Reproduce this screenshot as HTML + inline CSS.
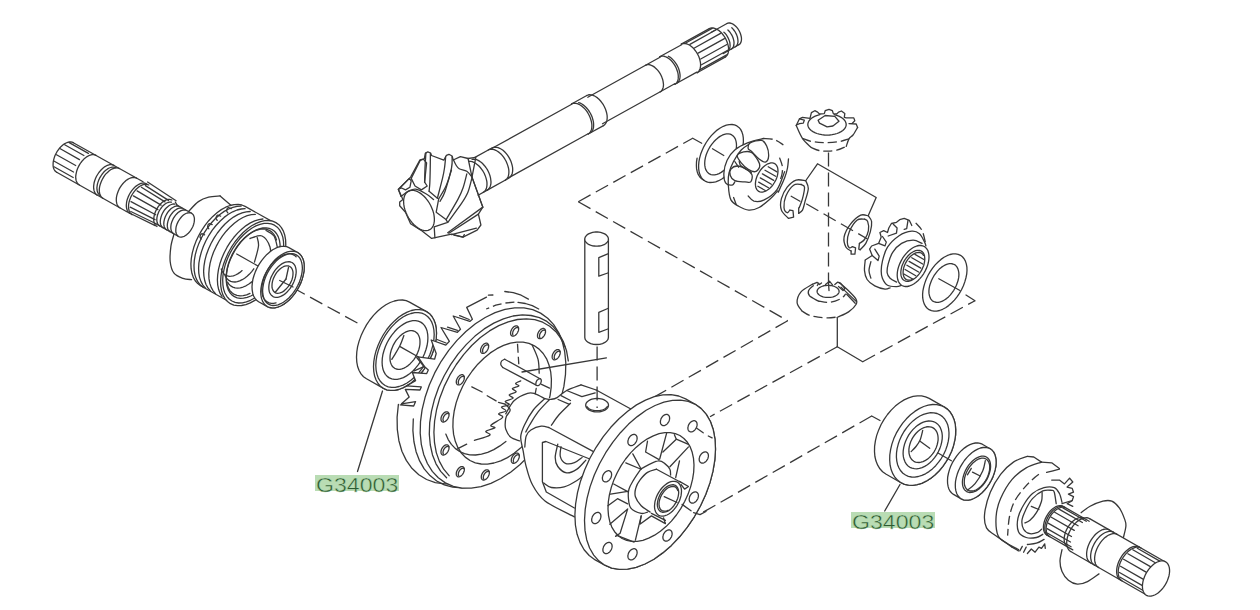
<!DOCTYPE html>
<html><head><meta charset="utf-8"><title>G34003</title>
<style>
html,body{margin:0;padding:0;background:#fff;}
body{width:1260px;height:610px;overflow:hidden;position:relative;font-family:"Liberation Sans",sans-serif;}
svg{position:absolute;left:0;top:0;}
svg path{fill:none;stroke:#383838;stroke-width:1.3;stroke-linecap:round;stroke-linejoin:round;}
svg path.w{fill:#fff;}
svg path.wn{fill:#fff;stroke:none;}
svg path.d{stroke-dasharray:14 6;stroke-linecap:butt;}
svg path.d2{stroke-dasharray:9 4;stroke-linecap:butt;}
svg path.t{stroke-width:0.9;}
.lb{position:absolute;background:#b9dcb4;color:#2c5a30;font-size:19.75px;line-height:16px;height:16px;white-space:nowrap;overflow:visible;}
.lb span{position:absolute;left:1px;top:1.5px;transform:scaleX(1.17);transform-origin:0 0;-webkit-text-stroke:0.45px #b9dcb4;}
</style></head><body>
<svg width="1260" height="610" viewBox="0 0 1260 610">
<!-- p_lines -->
<path d="M578.3 201.7 L692.7 138.3" class="d"/>
<path d="M692.7 138.3 L701.7 143.3"/>
<path d="M578.3 201.7 L787.7 320.7" class="d"/>
<path d="M787.7 320.7 L637.3 406.7" class="d"/>
<path d="M837.3 317.3 L837.3 346.7"/>
<path d="M837.3 346.7 L710 416.7" class="d"/>
<path d="M837.3 346.7 L862.7 361.7"/>
<path d="M862.7 361.7 L975 300.7" class="d"/>
<path d="M975 300.7 L966 295"/>
<path d="M871.7 416 L700 514" class="d"/>
<path d="M871.7 416 L880 420.5"/>
<path d="M693 430.7 L713 438"/>
<path d="M382.5 391 L357.5 471.5"/>
<path d="M900 484.5 L884.7 511"/>
<path d="M292.5 287.5 L361 325" class="d"/>
<!-- p_lshaft -->
<path d="M73.3 142.7 L143.1 181.8"/>
<path d="M56.7 172.3 L126.4 211.5"/>
<path d="M73.3 142.7 L72.1 142.2 L70.7 141.9 L69.2 142 L67.7 142.3 L66.1 143 L64.4 143.9 L62.8 145 L61.2 146.4 L59.7 148 L58.3 149.8 L57 151.7 L55.9 153.7 L54.9 155.8 L54.2 157.9 L53.6 160.1 L53.2 162.1 L53.1 164.1 L53.1 166 L53.4 167.7 L54 169.2 L54.7 170.5 L55.6 171.5 L56.7 172.3"/>
<path d="M69.2 142.6 L88.4 153.4"/>
<path d="M64.7 144.8 L83.9 155.5"/>
<path d="M60.3 148.8 L79.5 159.6"/>
<path d="M56.5 154.8 L75.7 165.5"/>
<path d="M54.3 161.2 L73.5 172"/>
<path d="M54 166.7 L73.2 177.5"/>
<path d="M96 155.4 L94.8 154.9 L93.4 154.7 L91.9 154.7 L90.3 155.1 L88.7 155.7 L87.1 156.6 L85.5 157.8 L83.9 159.1 L82.4 160.7 L81 162.5 L79.7 164.4 L78.6 166.4 L77.6 168.5 L76.8 170.7 L76.3 172.8 L75.9 174.9 L75.7 176.8 L75.8 178.7 L76.1 180.4 L76.6 181.9 L77.4 183.2 L78.3 184.3 L79.4 185"/>
<path d="M113.9 165.4 L112.6 164.9 L111.3 164.7 L109.8 164.7 L108.2 165.1 L106.6 165.7 L105 166.6 L103.4 167.8 L101.8 169.2 L100.3 170.8 L98.9 172.5 L97.6 174.5 L96.4 176.5 L95.5 178.6 L94.7 180.7 L94.1 182.8 L93.8 184.9 L93.6 186.9 L93.7 188.7 L94 190.4 L94.5 191.9 L95.2 193.2 L96.1 194.3 L97.2 195.1"/>
<path d="M116 167.8 L114.8 167.3 L113.5 167.1 L112.1 167.1 L110.7 167.5 L109.2 168 L107.6 168.9 L106.1 170 L104.6 171.3 L103.2 172.8 L101.9 174.5 L100.7 176.3 L99.6 178.2 L98.7 180.1 L98 182.1 L97.4 184.1 L97.1 186.1 L96.9 187.9 L97 189.7 L97.3 191.3 L97.8 192.7 L98.5 193.9 L99.3 194.9 L100.3 195.7"/>
<path d="M119.5 168.6 L118.3 168.1 L116.9 167.9 L115.4 167.9 L113.9 168.3 L112.3 168.9 L110.6 169.8 L109 171 L107.5 172.4 L105.9 173.9 L104.5 175.7 L103.3 177.6 L102.1 179.7 L101.2 181.8 L100.4 183.9 L99.8 186 L99.4 188.1 L99.3 190 L99.4 191.9 L99.7 193.6 L100.2 195.1 L100.9 196.4 L101.8 197.5 L102.9 198.3"/>
<path d="M136.5 178.2 L135.3 177.6 L133.9 177.4 L132.4 177.5 L130.9 177.8 L129.3 178.5 L127.7 179.4 L126 180.5 L124.5 181.9 L123 183.5 L121.5 185.3 L120.3 187.2 L119.1 189.2 L118.2 191.3 L117.4 193.4 L116.8 195.5 L116.4 197.6 L116.3 199.6 L116.4 201.5 L116.7 203.2 L117.2 204.7 L117.9 206 L118.8 207 L119.9 207.8"/>
<path d="M146.6 183.8 L145.3 183.3 L144 183 L142.5 183.1 L140.9 183.4 L139.3 184.1 L137.7 185 L136.1 186.1 L134.5 187.5 L133 189.1 L131.6 190.9 L130.3 192.8 L129.2 194.8 L128.2 196.9 L127.4 199 L126.8 201.2 L126.5 203.2 L126.3 205.2 L126.4 207.1 L126.7 208.8 L127.2 210.3 L127.9 211.6 L128.8 212.6 L129.9 213.4"/>
<path d="M148.8 185 L147.5 184.5 L146.1 184.3 L144.7 184.3 L143.1 184.7 L141.5 185.3 L139.9 186.2 L138.2 187.4 L136.7 188.7 L135.2 190.3 L133.8 192.1 L132.5 194 L131.3 196.1 L130.4 198.1 L129.6 200.3 L129 202.4 L128.6 204.5 L128.5 206.4 L128.6 208.3 L128.9 210 L129.4 211.5 L130.1 212.8 L131 213.9 L132.1 214.7"/>
<path d="M147.6 182 L176.1 200.7"/>
<path d="M126.4 211.5 L155.2 225.6"/>
<path d="M145.4 185.6 L168.5 200.4"/>
<path d="M141.4 187.2 L165 201.9"/>
<path d="M137.1 190.9 L161.1 205.1"/>
<path d="M133.4 195.9 L157.9 209.6"/>
<path d="M131 201.6 L155.7 214.7"/>
<path d="M130.2 207.2 L155 219.7"/>
<path d="M130.8 211.5 L155.6 223.5"/>
<path d="M171.9 200 L170.7 199.6 L169.5 199.4 L168.2 199.4 L166.8 199.7 L165.4 200.3 L163.9 201.1 L162.5 202.1 L161 203.4 L159.7 204.8 L158.4 206.4 L157.3 208.1 L156.3 209.9 L155.4 211.8 L154.7 213.7 L154.2 215.6 L153.9 217.4 L153.7 219.2 L153.8 220.9 L154.1 222.4 L154.5 223.7 L155.2 224.9 L156 225.8 L157 226.5"/>
<path d="M175.3 202 L177 205.1"/>
<path d="M177 205.1 L191.6 213.3"/>
<path d="M156.2 223.9 L178.6 236.5"/>
<path d="M171.4 202.2 L170.3 202.1 L169.2 202.2 L167.9 202.5 L166.7 203 L165.4 203.8 L164.2 204.7 L163 205.8 L161.8 207.1 L160.8 208.5 L159.8 210 L158.9 211.5 L158.2 213.2 L157.6 214.8 L157.2 216.4 L156.9 218 L156.8 219.6 L156.9 221 L157.1 222.3 L157.5 223.5 L158.1 224.4 L158.8 225.3 L159.7 225.9"/>
<path d="M174.9 204.2 L173.8 204 L172.6 204.1 L171.4 204.5 L170.2 205 L168.9 205.7 L167.7 206.7 L166.5 207.8 L165.3 209 L164.2 210.4 L163.3 211.9 L162.4 213.5 L161.7 215.1 L161.1 216.8 L160.7 218.4 L160.4 220 L160.3 221.5 L160.4 222.9 L160.6 224.2 L161 225.4 L161.6 226.4 L162.3 227.2 L163.1 227.8"/>
<path d="M178.4 206.1 L177.3 206 L176.1 206.1 L174.9 206.4 L173.7 207 L172.4 207.7 L171.2 208.6 L170 209.7 L168.8 211 L167.7 212.4 L166.8 213.9 L165.9 215.5 L165.2 217.1 L164.6 218.7 L164.2 220.4 L163.9 221.9 L163.8 223.5 L163.9 224.9 L164.1 226.2 L164.5 227.4 L165.1 228.4 L165.8 229.2 L166.6 229.8"/>
<path d="M181.9 208.1 L180.8 207.9 L179.6 208.1 L178.4 208.4 L177.2 208.9 L175.9 209.7 L174.7 210.6 L173.4 211.7 L172.3 213 L171.2 214.3 L170.2 215.8 L169.4 217.4 L168.7 219 L168.1 220.7 L167.7 222.3 L167.4 223.9 L167.3 225.4 L167.4 226.9 L167.6 228.2 L168 229.3 L168.6 230.3 L169.3 231.1 L170.1 231.7"/>
<path d="M185.4 210 L184.3 209.9 L183.1 210 L181.9 210.3 L180.6 210.9 L179.4 211.6 L178.1 212.5 L176.9 213.7 L175.8 214.9 L174.7 216.3 L173.7 217.8 L172.9 219.4 L172.2 221 L171.6 222.6 L171.1 224.3 L170.9 225.9 L170.8 227.4 L170.9 228.8 L171.1 230.1 L171.5 231.3 L172.1 232.3 L172.8 233.1 L173.6 233.7"/>
<path d="M178.6 236.5 L179.5 236.9 L180.6 237.1 L181.8 237 L183 236.7 L184.3 236.3 L185.5 235.5 L186.8 234.6 L188 233.6 L189.2 232.3 L190.3 230.9 L191.3 229.4 L192.2 227.8 L193 226.2 L193.6 224.5 L194 222.9 L194.3 221.3 L194.4 219.7 L194.4 218.3 L194.1 216.9 L193.7 215.7 L193.2 214.7 L192.4 213.9 L191.6 213.3 L190.6 212.9 L189.5 212.7 L188.4 212.8 L187.2 213 L185.9 213.5 L184.6 214.2 L183.4 215.1 L182.1 216.2 L181 217.5 L179.9 218.9 L178.9 220.3 L178 221.9 L177.2 223.6 L176.6 225.2 L176.1 226.9 L175.9 228.5 L175.8 230.1 L175.8 231.5 L176 232.8 L176.4 234 L177 235 L177.7 235.9 L178.6 236.5 Z" class="w"/>
<!-- p_cv -->
<path d="M188.8 211.2 C190.4 209.6 195.1 203.9 198.4 201.6 C201.7 199.2 205 198 208.6 197.1 C212.2 196.2 218.2 196.1 220.1 195.9"/>
<path d="M220.1 195.9 L233.5 207.5"/>
<path d="M174 234.2 C173.5 236.2 171.5 241.8 170.9 246.4 C170.3 251 169.7 257.2 170.2 261.7 C170.7 266.2 171.9 270.4 174 273.2 C176.1 276 180.1 277.3 183 278.4 C185.9 279.5 190.1 279.4 191.5 279.6"/>
<path d="M245.1 206.4 L241.8 205 L238.1 204.4 L234.1 204.6 L230 205.5 L225.7 207.2 L221.3 209.6 L217 212.7 L212.8 216.4 L208.7 220.7 L205 225.4 L201.5 230.6 L198.5 236 L195.9 241.6 L193.8 247.3 L192.3 252.9 L191.3 258.5 L190.9 263.8 L191.1 268.7 L191.9 273.3 L193.3 277.4 L195.2 280.8 L197.7 283.6 L200.6 285.8 L230.9 302.8 L234.3 304.2 L237.9 304.8 L241.9 304.6 L246.1 303.7 L250.4 302 L254.7 299.6 L259.1 296.5 L263.3 292.8 L267.3 288.5 L271.1 283.8 L274.5 278.6 L277.6 273.2 L280.1 267.6 L282.2 261.9 L283.8 256.3 L284.7 250.7 L285.1 245.4 L284.9 240.4 L284.1 235.9 L282.7 231.8 L280.8 228.4 L278.4 225.5 L275.5 223.4 Z" class="w"/>
<path d="M241 206.1 L237 206.3 L232.9 207.3 L228.6 209 L224.2 211.4 L219.9 214.5 L215.7 218.3 L211.7 222.5 L207.9 227.3 L204.5 232.4 L201.5 237.8 L198.9 243.4 L196.8 249.1 L195.3 254.7 L194.3 260.3 L194 265.5 L194.2 270.5 L195 275.1 L196.4 279.1 L198.3 282.5 L200.7 285.4 L203.6 287.5"/>
<path d="M245.1 208.7 L241.2 209 L237 210 L232.7 211.8 L228.4 214.3 L224.1 217.4 L220 221.2 L216 225.5 L212.3 230.2 L208.9 235.3 L205.9 240.7 L203.4 246.2 L201.4 251.9 L199.9 257.5 L198.9 263 L198.6 268.2 L198.8 273.1 L199.6 277.6 L201 281.6 L202.9 285.1 L205.3 287.9"/>
<path d="M250.2 211.5 L246.2 211.8 L242.1 212.9 L237.8 214.6 L233.5 217.1 L229.2 220.3 L225 224 L221.1 228.3 L217.4 233 L214 238.1 L211 243.5 L208.5 249.1 L206.4 254.7 L204.9 260.3 L204 265.8 L203.6 271.1 L203.9 276 L204.7 280.5 L206 284.5 L207.9 287.9 L210.3 290.7"/>
<path d="M255.3 214.4 L251.4 214.7 L247.2 215.7 L242.9 217.5 L238.6 220 L234.3 223.2 L230.2 226.9 L226.2 231.2 L222.5 235.9 L219.1 241 L216.2 246.4 L213.6 252 L211.6 257.6 L210.1 263.2 L209.2 268.7 L208.8 273.9 L209 278.9 L209.8 283.4 L211.2 287.4 L213.1 290.8 L215.5 293.6"/>
<path d="M231.2 208.7 C230.7 208.5 229 207.4 228.2 207.7 C227.4 208 226.7 209.7 226.6 210.6 C226.5 211.5 227.6 212.5 227.8 212.9"/>
<path d="M220.6 216.2 C220.1 216 218.4 214.9 217.6 215.2 C216.8 215.5 216.1 217.2 216 218.1 C215.9 219 217 220 217.2 220.4"/>
<path d="M212.2 224.6 C211.7 224.4 210 223.3 209.2 223.6 C208.4 223.9 207.7 225.6 207.6 226.5 C207.5 227.4 208.6 228.4 208.8 228.8"/>
<path d="M204.6 234.8 C204.1 234.6 202.4 233.5 201.6 233.8 C200.8 234.1 200.1 235.8 200 236.7 C199.9 237.6 201 238.6 201.2 239"/>
<path d="M230.4 303.7 L233.8 305.1 L237.6 305.7 L241.6 305.5 L245.9 304.6 L250.3 302.9 L254.8 300.4 L259.2 297.2 L263.5 293.4 L267.6 289.1 L271.5 284.2 L275 279 L278.1 273.4 L280.7 267.7 L282.9 261.9 L284.4 256.1 L285.4 250.5 L285.8 245 L285.6 239.9 L284.8 235.3 L283.4 231.1 L281.4 227.6 L278.9 224.7 L275.9 222.6 L272.6 221.1 L268.8 220.5 L264.7 220.7 L260.5 221.6 L256.1 223.4 L251.6 225.8 L247.2 229 L242.9 232.8 L238.8 237.2 L234.9 242 L231.4 247.2 L228.3 252.8 L225.7 258.5 L223.5 264.3 L221.9 270.1 L221 275.8 L220.6 281.2 L220.8 286.3 L221.6 290.9 L223 295.1 L225 298.6 L227.5 301.5 L230.4 303.7 Z" class="w"/>
<path d="M262.9 219 L258.9 219.6 L254.7 220.9 L250.4 222.9 L246.1 225.6 L241.9 229 L237.8 232.9 L233.9 237.3 L230.3 242.1 L227.1 247.2 L224.2 252.7 L221.8 258.2 L219.9 263.8 L218.5 269.4 L217.7 274.8 L217.4 280 L217.7 284.8 L218.6 289.3 L220 293.2 L222 296.5"/>
<path d="M231.9 301 L235.1 302.4 L238.6 303 L242.4 302.8 L246.4 301.9 L250.5 300.3 L254.7 298 L258.8 295 L262.8 291.5 L266.7 287.4 L270.3 282.9 L273.6 278 L276.5 272.8 L279 267.4 L280.9 262 L282.4 256.6 L283.4 251.3 L283.7 246.2 L283.5 241.4 L282.8 237.1 L281.4 233.2 L279.6 229.9 L277.3 227.2 L274.5 225.2 L271.3 223.9 L267.8 223.3 L264 223.4 L260 224.3 L255.9 225.9 L251.7 228.2 L247.6 231.2 L243.6 234.8 L239.7 238.8 L236.1 243.4 L232.8 248.3 L229.9 253.4 L227.4 258.8 L225.4 264.2 L224 269.7 L223 275 L222.7 280 L222.9 284.8 L223.6 289.1 L224.9 293 L226.8 296.3 L229.1 299 L231.9 301 Z"/>
<path d="M234.4 296.7 L237.2 297.9 L240.3 298.4 L243.6 298.2 L247.2 297.4 L250.8 296 L254.5 294 L258.2 291.4 L261.7 288.2 L265.1 284.6 L268.3 280.6 L271.2 276.2 L273.8 271.7 L276 266.9 L277.8 262.1 L279.1 257.3 L279.9 252.6 L280.2 248.1 L280 243.9 L279.4 240.1 L278.2 236.6 L276.6 233.7 L274.5 231.3 L272 229.5 L269.2 228.4 L266.1 227.8 L262.8 228 L259.2 228.8 L255.6 230.2 L251.9 232.2 L248.2 234.9 L244.7 238 L241.2 241.6 L238.1 245.6 L235.2 250 L232.6 254.6 L230.4 259.3 L228.6 264.1 L227.3 268.9 L226.5 273.6 L226.2 278.1 L226.4 282.3 L227 286.1 L228.2 289.6 L229.8 292.5 L231.9 294.9 L234.4 296.7 Z"/>
<path d="M276.5 240 L275.4 236.8 L273.7 234.1 L271.7 231.9 L269.3 230.3 L266.6 229.3 L263.6 228.9 L260.4 229.1 L257.1 230 L253.6 231.4 L250.1 233.5 L246.7 236 L243.3 239.1 L240.1 242.5 L237.1 246.4 L234.4 250.5 L232 254.9 L230 259.4 L228.4 263.9 L227.2 268.5 L226.5 272.9 L226.3 277.1 L226.5 281.1 L227.2 284.7 L228.4 287.8 L229.9 290.6 L232 292.7 L234.3 294.4 L237 295.4 L240 295.8 L243.2 295.6 L246.6 294.8 L250 293.4"/>
<path d="M227.5 282.1 L228.9 284.2 L230.7 285.9 L232.8 287.1 L235.1 287.9 L237.6 288.1 L240.3 287.8 L243.1 287 L246 285.8 L248.9 284 L251.8 281.9 L254.6 279.3 L257.2 276.4 L259.7 273.1 L262 269.7 L263.9 266"/>
<path d="M225 275.4 L226 277.4 L227.4 279.1 L228.9 280.4 L230.7 281.4 L232.8 281.9 L235 282 L237.3 281.6 L239.7 280.9 L242.2 279.7 L244.6 278.2 L247.1 276.3 L249.5 274.1 L251.7 271.6 L253.8 268.8"/>
<path d="M221.3 269 L222 271 L223 272.8 L224.3 274.2 L225.8 275.2 L227.4 275.9 L229.3 276.3 L231.3 276.2 L233.4 275.8 L235.5 275 L237.7 273.9 L239.9 272.4 L242.1 270.6"/>
<path d="M257.2 237.5 C257.4 238.9 258.9 241.9 258.5 246 C258.1 250.1 255.2 259.3 254.5 262"/>
<path d="M250 238.5 C252 238.1 258.7 234.6 262 236 C265.3 237.4 268.6 242.7 270 247 C271.4 251.3 270.4 259.5 270.5 262"/>
<path d="M266 230.5 C267.3 231.4 272 232.8 274 236 C276 239.2 277.3 247.7 278 250"/>
<path d="M236.7 254 L258 266"/>
<path d="M288.9 247.6 L286.7 246.7 L284.2 246.3 L281.5 246.4 L278.6 247 L275.7 248.2 L272.7 249.8 L269.8 251.9 L266.9 254.4 L264.2 257.4 L261.6 260.6 L259.2 264.1 L257.2 267.8 L255.4 271.6 L254 275.5 L252.9 279.3 L252.3 283.1 L252 286.7 L252.2 290.1 L252.7 293.2 L253.6 296 L255 298.3 L256.6 300.2 L258.6 301.7 L267.3 306.6 L269.6 307.5 L272.1 307.9 L274.8 307.8 L277.6 307.2 L280.6 306 L283.5 304.4 L286.5 302.3 L289.4 299.8 L292.1 296.9 L294.7 293.6 L297 290.1 L299.1 286.4 L300.9 282.6 L302.3 278.7 L303.3 274.9 L304 271.1 L304.2 267.5 L304.1 264.1 L303.6 261 L302.6 258.2 L301.3 255.9 L299.6 254 L297.7 252.5 Z" class="w"/>
<path d="M267.3 306.6 L269.6 307.5 L272.1 307.9 L274.8 307.8 L277.6 307.2 L280.6 306 L283.5 304.4 L286.5 302.3 L289.4 299.8 L292.1 296.9 L294.7 293.6 L297 290.1 L299.1 286.4 L300.9 282.6 L302.3 278.7 L303.3 274.9 L304 271.1 L304.2 267.5 L304.1 264.1 L303.6 261 L302.6 258.2 L301.3 255.9 L299.6 254 L297.7 252.5 L295.4 251.6 L292.9 251.2 L290.2 251.3 L287.4 251.9 L284.4 253.1 L281.4 254.7 L278.5 256.8 L275.6 259.3 L272.9 262.3 L270.3 265.5 L268 269 L265.9 272.7 L264.1 276.5 L262.7 280.4 L261.7 284.2 L261 288 L260.7 291.6 L260.9 295 L261.4 298.1 L262.4 300.9 L263.7 303.2 L265.3 305.1 L267.3 306.6 Z" class="w"/>
<path d="M268.6 304.2 L270.7 305.1 L273 305.5 L275.5 305.4 L278.1 304.8 L280.7 303.7 L283.4 302.2 L286.1 300.3 L288.8 298 L291.3 295.3 L293.6 292.4 L295.8 289.2 L297.6 285.8 L299.3 282.4 L300.5 278.8 L301.5 275.3 L302.1 271.8 L302.4 268.5 L302.2 265.5 L301.7 262.6 L300.9 260.1 L299.7 257.9 L298.2 256.2 L296.3 254.9 L294.3 254 L292 253.6 L289.5 253.7 L286.9 254.3 L284.3 255.4 L281.5 256.9 L278.8 258.8 L276.2 261.1 L273.7 263.8 L271.4 266.7 L269.2 269.9 L267.3 273.3 L265.7 276.7 L264.4 280.3 L263.5 283.8 L262.9 287.3 L262.6 290.6 L262.8 293.7 L263.3 296.5 L264.1 299 L265.3 301.2 L266.8 302.9 L268.6 304.2 Z"/>
<path d="M273 296.6 L274.4 297.1 L276 297.4 L277.7 297.3 L279.4 296.9 L281.3 296.2 L283.2 295.2 L285 293.9 L286.8 292.3 L288.5 290.4 L290.2 288.4 L291.6 286.2 L292.9 283.9 L294 281.5 L294.9 279 L295.6 276.6 L296 274.2 L296.2 272 L296.1 269.8 L295.7 267.9 L295.2 266.1 L294.3 264.7 L293.3 263.5 L292 262.5 L290.6 262 L289 261.7 L287.3 261.8 L285.5 262.2 L283.7 262.9 L281.8 263.9 L280 265.2 L278.2 266.8 L276.4 268.7 L274.8 270.7 L273.4 272.9 L272.1 275.2 L270.9 277.6 L270.1 280.1 L269.4 282.5 L269 284.9 L268.8 287.1 L268.9 289.3 L269.2 291.2 L269.8 293 L270.7 294.4 L271.7 295.6 L273 296.6 Z"/>
<path d="M275.2 292.6 L276.2 293.1 L277.5 293.3 L278.8 293.2 L280.1 292.9 L281.6 292.4 L283 291.6 L284.4 290.6 L285.8 289.3 L287.1 287.9 L288.4 286.4 L289.5 284.7 L290.5 282.9 L291.4 281 L292.1 279.2 L292.6 277.3 L292.9 275.5 L293 273.7 L293 272.1 L292.7 270.6 L292.2 269.2 L291.6 268.1 L290.8 267.2 L289.8 266.5 L288.7 266 L287.5 265.8 L286.2 265.9 L284.8 266.2 L283.4 266.7 L282 267.5 L280.6 268.5 L279.2 269.8 L277.8 271.2 L276.6 272.7 L275.5 274.4 L274.5 276.2 L273.6 278.1 L272.9 279.9 L272.4 281.8 L272.1 283.6 L272 285.4 L272 287 L272.3 288.5 L272.8 289.9 L273.4 291 L274.2 291.9 L275.2 292.6 Z"/>
<path d="M296.1 256.7 L294.5 255.3 L292.5 254.4 L290.4 253.9 L288.1 253.9 L285.6 254.3 L283.1 255.2 L280.5 256.5 L277.9 258.3 L275.4 260.4 L272.9 262.9 L270.6 265.6 L268.5 268.6 L266.7 271.8 L265.1 275.2 L263.8 278.5 L262.8 281.9 L262.1 285.2 L261.8 288.4 L261.9 291.4 L262.3 294.2 L263 296.7 L264.1 298.8 L265.5 300.6 L267.2 301.9 L269.1 302.8 L271.3 303.3 L273.6 303.3 L276.1 302.8"/>
<path d="M279.7 280.5 L293 287"/>
<path d="M288.5 267.5 L286 279"/>
<path d="M286 279 L275.5 292"/>
<!-- p_pinion -->
<path d="M508.5 177.9 L588.1 133.8"/>
<path d="M492.1 148.3 L571.7 104.2"/>
<path d="M487.7 189.9 L508.7 178.3"/>
<path d="M470.9 159.6 L491.9 148"/>
<path d="M505.2 180.2 L506.3 179.4 L507.2 178.3 L508 177 L508.5 175.5 L508.8 173.7 L508.9 171.9 L508.8 169.8 L508.4 167.7 L507.8 165.6 L507 163.4 L506.1 161.3 L504.9 159.2 L503.6 157.2 L502.2 155.4 L500.7 153.8 L499.1 152.4 L497.4 151.2 L495.8 150.3 L494.2 149.6 L492.6 149.3 L491.1 149.2 L489.7 149.4 L488.4 149.9"/>
<path d="M509 177.8 L510.1 177 L511 176 L511.8 174.7 L512.3 173.2 L512.6 171.5 L512.7 169.6 L512.6 167.6 L512.2 165.5 L511.6 163.4 L510.9 161.2 L509.9 159.1 L508.8 157.1 L507.5 155.2 L506.1 153.4 L504.6 151.8 L503 150.3 L501.4 149.2 L499.7 148.3 L498.1 147.6 L496.6 147.3 L495.1 147.2 L493.7 147.4 L492.4 147.9"/>
<path d="M588.2 134 L603.5 125.6"/>
<path d="M571.5 104 L586.8 95.5"/>
<path d="M588.2 134 L589.3 133.3 L590.2 132.2 L591 130.9 L591.5 129.4 L591.8 127.6 L591.9 125.8 L591.8 123.8 L591.4 121.7 L590.8 119.5 L590.1 117.4 L589.1 115.2 L588 113.2 L586.7 111.2 L585.3 109.4 L583.7 107.8 L582.2 106.4 L580.5 105.2 L578.9 104.3 L577.3 103.7 L575.7 103.3 L574.2 103.2 L572.8 103.4 L571.5 104"/>
<path d="M590.7 132.6 L591.7 131.7 L592.5 130.5 L593.1 129.1 L593.5 127.5 L593.6 125.7 L593.6 123.8 L593.4 121.8 L592.9 119.7 L592.3 117.6 L591.5 115.6 L590.5 113.5 L589.3 111.5 L588 109.7 L586.6 108 L585.1 106.4 L583.5 105.1 L581.9 104 L580.3 103.2 L578.7 102.6"/>
<path d="M603.5 125.6 L604.6 124.8 L605.5 123.7 L606.3 122.4 L606.8 120.9 L607.1 119.2 L607.2 117.3 L607.1 115.3 L606.7 113.2 L606.1 111 L605.4 108.9 L604.4 106.7 L603.3 104.7 L602 102.8 L600.6 101 L599 99.3 L597.5 97.9 L595.8 96.7 L594.2 95.8 L592.6 95.2 L591 94.8 L589.5 94.7 L588.1 95 L586.8 95.5"/>
<path d="M602.5 123.8 L674.7 83.8"/>
<path d="M587.8 97.2 L660 57.2"/>
<path d="M660.2 91.9 L661.2 91.2 L662 90.2 L662.6 89.1 L663.1 87.7 L663.4 86.2 L663.5 84.5 L663.3 82.8 L663 80.9 L662.5 79 L661.8 77.1 L661 75.2 L660 73.4 L658.8 71.7 L657.6 70.1 L656.2 68.7 L654.8 67.4 L653.4 66.4 L651.9 65.6 L650.5 65 L649.1 64.7 L647.8 64.6 L646.6 64.8 L645.4 65.3"/>
<path d="M674.9 84.3 L696.8 72.1"/>
<path d="M659.7 56.8 L681.6 44.7"/>
<path d="M674.9 84.3 L676 83.5 L676.8 82.6 L677.5 81.4 L678 80 L678.2 78.4 L678.3 76.7 L678.2 74.9 L677.9 72.9 L677.3 71 L676.6 69 L675.8 67.1 L674.7 65.2 L673.5 63.4 L672.3 61.8 L670.9 60.3 L669.4 59 L667.9 57.9 L666.4 57.1 L664.9 56.5 L663.5 56.2 L662.1 56.1 L660.9 56.3 L659.7 56.8"/>
<path d="M677.4 82.9 L678.3 82 L679 80.8 L679.6 79.5 L679.9 77.9 L680.1 76.2 L680 74.4 L679.7 72.5 L679.2 70.5 L678.6 68.5 L677.7 66.5 L676.7 64.6 L675.5 62.8 L674.2 61.1 L672.8 59.6 L671.4 58.2 L669.9 57.1 L668.3 56.2"/>
<path d="M697.1 72.7 L698.1 71.9 L699 70.9 L699.7 69.7 L700.2 68.2 L700.5 66.6 L700.6 64.8 L700.5 62.9 L700.1 60.9 L699.6 58.9 L698.9 56.8 L697.9 54.8 L696.9 52.9 L695.6 51 L694.3 49.3 L692.9 47.8 L691.4 46.5 L689.8 45.3 L688.3 44.5 L686.7 43.9 L685.2 43.5 L683.8 43.4 L682.5 43.7 L681.3 44.1"/>
<path d="M697.1 72.7 L725.1 57.1"/>
<path d="M681.3 44.1 L709.3 28.6"/>
<path d="M700.5 69.4 L726.7 54.9"/>
<path d="M701.5 64.8 L727.7 50.2"/>
<path d="M700.7 59 L726.9 44.5"/>
<path d="M698.2 53.1 L724.4 38.6"/>
<path d="M694.4 48 L720.6 33.4"/>
<path d="M689.9 44.4 L716.1 29.8"/>
<path d="M685.8 43 L712.1 28.4"/>
<path d="M725.1 57.1 L726.1 56.4 L727 55.4 L727.7 54.2 L728.2 52.7 L728.5 51.1 L728.6 49.3 L728.5 47.4 L728.1 45.4 L727.6 43.4 L726.8 41.3 L725.9 39.3 L724.9 37.4 L723.6 35.5 L722.3 33.8 L720.9 32.3 L719.4 30.9 L717.8 29.8 L716.2 29 L714.7 28.3 L713.2 28 L711.8 27.9 L710.5 28.1 L709.3 28.6"/>
<path d="M723.1 53.6 L738.8 44.8"/>
<path d="M711.3 32.2 L727 23.5"/>
<path d="M727.5 51.1 L728.2 50.6 L728.9 49.9 L729.4 49 L729.8 48 L730 46.9 L730.1 45.6 L730 44.3 L729.9 42.8 L729.5 41.4 L729 39.9 L728.4 38.5 L727.7 37.1 L726.9 35.7 L726 34.4 L725 33.2 L723.9 32.2"/>
<path d="M731.4 49 L732.2 48.4 L732.8 47.7 L733.3 46.8 L733.7 45.8 L733.9 44.7 L734 43.4 L734 42.1 L733.8 40.7 L733.4 39.2 L733 37.8 L732.4 36.3 L731.7 34.9 L730.8 33.5 L729.9 32.2 L728.9 31 L727.9 30"/>
<path d="M735.3 46.8 L736.1 46.2 L736.7 45.5 L737.3 44.7 L737.6 43.6 L737.9 42.5 L738 41.2 L737.9 39.9 L737.7 38.5 L737.4 37 L736.9 35.6 L736.3 34.1 L735.6 32.7 L734.8 31.3 L733.8 30 L732.9 28.9 L731.8 27.8"/>
<path d="M738.8 44.8 L739.6 44.3 L740.3 43.5 L740.8 42.6 L741.2 41.5 L741.4 40.3 L741.5 39 L741.4 37.5 L741.1 36 L740.7 34.5 L740.2 33 L739.5 31.5 L738.7 30 L737.8 28.7 L736.8 27.4 L735.7 26.2 L734.5 25.2 L733.4 24.4 L732.2 23.7 L731.1 23.3 L730 23 L728.9 23 L727.9 23.1 L727 23.5"/>
<path d="M398.4 189.5 L410.6 177.1 L420 159.8 L424.3 158.8 L425.3 153.4 L427.8 151.8 L430.6 153 L431.5 155.5 L443.8 160.2 L446.4 155.3 L448.9 154.3 L452.1 156 L453.2 160 L460.4 156.6 L468.1 158.5 L475.8 157.3 L472 177.1 L482.8 207.1 L478.4 214.1 L480.9 225 L477.1 230.1 L463 237.1 L451.5 234.2 L431.7 238.4 L420.8 230.1 L410.6 223.7 L405.5 212.2 L399.7 205.8 L399.7 202 L402.9 199.4 Z" class="w"/>
<path d="M411.2 178.4 L420.2 160.5 L423.4 159.2 L426.6 163 L424.6 182.2 L427.2 186 L421.4 189.9 L415 186 Z"/>
<path d="M398.4 189.2 L409.3 178.4 L411.2 180.9 L409.9 187.3 L405.5 189.9 L401.6 188 Z"/>
<path d="M429.7 229.7 L431.1 228.7 L432.3 227.4 L433.2 225.7 L433.9 223.7 L434.3 221.5 L434.4 219.1 L434.2 216.6 L433.8 213.9 L433 211.1 L432 208.4 L430.8 205.7 L429.3 203 L427.7 200.6 L425.9 198.3 L424 196.2 L421.9 194.4 L419.8 192.9 L417.7 191.7 L415.7 190.9 L413.6 190.4 L411.7 190.3 L409.9 190.6 L408.3 191.3 L406.9 192.3 L405.7 193.6 L404.8 195.3 L404.1 197.3 L403.7 199.5 L403.6 201.9 L403.8 204.4 L404.2 207.1 L405 209.9 L406 212.6 L407.2 215.3 L408.7 218 L410.3 220.4 L412.1 222.7 L414 224.8 L416.1 226.6 L418.2 228.1 L420.3 229.3 L422.3 230.1 L424.4 230.6 L426.3 230.7 L428.1 230.4 L429.7 229.7 Z" class="w"/>
<path d="M401 196.3 C402.3 195.5 406.2 192.4 408.7 191.2 C411.1 190 412.8 188.8 415.7 189.2 C418.6 189.6 422.9 192 425.9 193.7 C428.9 195.4 432.3 198.5 433.6 199.5"/>
<path d="M398.4 189.5 L401 196.3"/>
<path d="M425.9 152.8 C425.8 155.3 425.2 163.1 425 168 C424.8 172.9 424.7 179.8 424.6 182.2"/>
<path d="M430.4 153.4 C430.4 156.2 430.3 165 430.2 170 C430.1 175 430 180 429.8 183.5 C429.6 187 429.2 189.9 429.1 191.2"/>
<path d="M429.1 191.2 L437.4 198.2"/>
<path d="M445.7 156.6 C445.5 158.5 445 164.4 444.5 168 C444 171.6 443.7 173.4 442.5 178.4 C441.3 183.4 438.2 194.9 437.4 198.2"/>
<path d="M452.1 156.6 C452 158.5 452.7 162.3 451.5 168.1 C450.3 173.9 447 185.6 445.1 191.2 C443.2 196.8 440.9 199.7 440 201.4"/>
<path d="M451.5 170 C450.6 172.7 448.1 181.2 446 186 C443.9 190.8 439.9 196.7 438.7 198.8"/>
<path d="M453.4 159.8 C453.8 160.7 455 163.5 456 165 C457 166.5 457.4 167.8 459.2 168.8 C461 169.9 464.7 169.9 466.8 171.3 C468.9 172.7 471.1 176.1 472 177.1"/>
<path d="M468.1 158.5 L472 177.1"/>
<path d="M472 177.1 L482.8 207.1"/>
<path d="M466.8 173.8 C466.2 176.2 464.5 183.7 463 188 C461.5 192.3 460.7 194.2 457.9 199.4 C455.1 204.6 448.3 215.9 446.4 219.2"/>
<path d="M472 177.7 C471.3 180.1 469.7 187.8 468 192 C466.3 196.2 465.1 198.1 461.7 203.2 C458.3 208.3 450 219.2 447.7 222.4"/>
<path d="M438.7 198.8 L436.2 212.2 L445.7 219.2 L447.7 222.4 L434.2 226.9 L434.9 237.8"/>
<path d="M482.8 207.1 L447.7 232.7"/>
<path d="M448.9 233.3 L478.4 214.1"/>
<path d="M451.5 234.6 L476.4 228.2"/>
<path d="M454 235.2 L463 237.1 L464.3 234.6"/>
<path d="M483.3 192.3 L484.4 191.5 L485.4 190.4 L486.1 189.1 L486.6 187.6 L486.9 185.8 L487 183.9 L486.9 181.9 L486.5 179.8 L485.9 177.6 L485.1 175.4 L484.2 173.3 L483 171.2 L481.7 169.3 L480.3 167.5 L478.7 165.8 L477.1 164.4 L475.5 163.2 L473.8 162.3 L472.2 161.7 L470.6 161.4 L469.1 161.3"/>
<path d="M487.2 190.1 L488.3 189.3 L489.3 188.3 L490 187 L490.5 185.5 L490.9 183.8 L491 181.9 L490.8 180 L490.5 177.9 L490 175.8 L489.2 173.6 L488.3 171.5 L487.2 169.4 L485.9 167.5 L484.5 165.7 L483 164 L481.5 162.6 L479.9 161.4 L478.2 160.4 L476.6 159.7 L475 159.3 L473.5 159.1 L472.1 159.3"/>
<path d="M478.1 195.2 L487.7 189.9"/>
<!-- p_topright -->
<path d="M712.5 148.8 L723.8 155.5"/>
<path d="M791.2 196.2 L800 201.2"/>
<path d="M806.2 203.8 L867.5 239" class="d"/>
<path d="M938.8 278.8 L960 290.5"/>
<path d="M697.1 158.1 L696.5 161.9 L696.4 165.6 L696.6 168.9 L697.3 172 L698.3 174.7 L699.8 177 L701.6 178.8 L703.7 180.2 L706 181 L708.7 181.3"/>
<path d="M705.1 181.1 L707.5 182.1 L710 182.5 L712.8 182.4 L715.7 181.8 L718.7 180.7 L721.8 179 L724.9 176.9 L727.8 174.3 L730.7 171.4 L733.3 168.1 L735.8 164.5 L738 160.7 L739.8 156.8 L741.3 152.9 L742.4 148.9 L743.1 145.1 L743.4 141.4 L743.3 137.9 L742.8 134.7 L741.9 131.9 L740.6 129.4 L738.9 127.4 L736.9 125.9 L734.5 124.9 L732 124.5 L729.2 124.6 L726.3 125.2 L723.3 126.3 L720.2 128 L717.1 130.1 L714.2 132.7 L711.3 135.6 L708.7 138.9 L706.2 142.5 L704 146.3 L702.2 150.2 L700.7 154.1 L699.6 158.1 L698.9 161.9 L698.6 165.6 L698.7 169.1 L699.2 172.3 L700.1 175.1 L701.4 177.6 L703.1 179.6 L705.1 181.1 Z" class="w"/>
<path d="M709.4 173.9 L711 174.6 L712.8 174.9 L714.8 174.9 L716.9 174.4 L719 173.6 L721.2 172.4 L723.3 170.9 L725.4 169.1 L727.4 167 L729.3 164.7 L731.1 162.2 L732.6 159.5 L733.9 156.8 L735 154 L735.8 151.2 L736.3 148.4 L736.5 145.8 L736.4 143.4 L736 141.1 L735.4 139.1 L734.4 137.4 L733.2 136 L731.8 134.9 L730.2 134.2 L728.4 133.9 L726.4 133.9 L724.3 134.4 L722.2 135.2 L720 136.4 L717.9 137.9 L715.8 139.7 L713.8 141.8 L711.9 144.1 L710.1 146.6 L708.6 149.3 L707.3 152 L706.2 154.8 L705.4 157.6 L704.9 160.4 L704.7 163 L704.8 165.4 L705.2 167.7 L705.8 169.7 L706.8 171.4 L708 172.8 L709.4 173.9 Z"/>
<path d="M712.5 148.8 L723.8 155.5"/>
<path d="M763.5 138.5 C759 139 752.3 141 747.5 142.9 C742.7 144.8 738.2 147.1 734.8 150 C731.4 152.9 728.9 156.4 727.1 160.2 C725.3 164 724.1 169.2 723.9 173 C723.7 176.8 725 180.8 725.8 183.2 C726.5 185.5 727.8 185 728.4 187.1 C729 189.2 728.5 193.2 729.6 196 C730.7 198.8 731.8 201.3 734.8 203.7 C737.8 206 743.5 209.5 747.5 210.1 C751.5 210.7 755.2 209.4 759.1 207.5 C763 205.6 767.4 201.2 770.6 198.6 C773.8 196 775.9 195.6 778.2 192.2 C780.5 188.8 782.9 183.6 784.6 178.1 C786.3 172.6 788.7 164.4 788.5 158.9 C788.3 153.4 785.8 148.1 783.4 144.9 C781 141.7 777.7 140.8 774.4 139.7 C771.1 138.6 768 138 763.5 138.5 Z" class="wn"/>
<path d="M763.5 138.5 C760.8 139.2 752.3 141 747.5 142.9 C742.7 144.8 738.2 147.1 734.8 150 C731.4 152.9 728.9 156.4 727.1 160.2 C725.3 164 724.1 169.2 723.9 173 C723.7 176.8 724.4 181.2 725.8 183.2 C727.2 185.2 730.7 185.3 732.2 185.1 C733.7 184.9 734.4 182.4 734.8 181.9"/>
<path d="M750.1 143.6 C748.6 144.7 744 147 741.2 150 C738.4 153 735.5 157.7 733.5 161.5 C731.5 165.3 729.9 168.9 729 173 C728.1 177.1 728.1 181.5 728.4 186 C728.7 190.5 729.2 196.5 730.9 199.9 C732.6 203.3 735.6 204.6 738.6 206.3 C741.6 208 745.4 209.9 748.8 210.1 C752.2 210.3 755.5 209.4 759.1 207.5 C762.7 205.6 767.5 201.3 770.6 198.6 C773.7 195.8 776.4 192.3 777.5 191"/>
<path d="M763.5 138.5 C765.3 138.7 771.1 138.6 774.4 139.7 C777.7 140.8 781.9 144 783.4 144.9" class="d2"/>
<path d="M788.5 158.9 C788.3 160.4 788.1 164.8 787.5 168 C786.9 171.2 786.1 174.1 784.6 178.1 C783.1 182.1 779.3 189.8 778.2 192.2"/>
<path d="M779.5 157.6 C780 159 781.9 163.3 782.3 166 C782.7 168.7 782.5 171.3 782 174 C781.5 176.7 779.9 180.7 779.5 182" class="d2"/>
<path d="M748.2 196 C749.2 196.9 751.2 200.5 753.9 201.2 C756.6 201.8 760.4 201.8 764.2 199.9 C768.1 198 773.6 194.3 777 189.6 C780.4 184.9 783.3 174.7 784.6 171.7"/>
<path d="M733.6 197.5 L736.2 204.5"/>
<path d="M750.1 142.9 C752.3 141.5 758.8 139.9 761.6 140.4 C764.4 140.9 765.5 143.4 766.7 146.1 C767.9 148.8 768.8 153.7 768.6 156.4 C768.4 159.1 767 161.7 765.4 162.1 C763.8 162.5 761.4 160.7 759.1 158.9 C756.8 157.1 753.2 152.9 751.4 151.2 C749.6 149.5 748.4 150.1 748.2 148.7 C748 147.3 747.9 144.3 750.1 142.9 Z" class="w"/>
<path d="M737.3 155.7 C737.7 153.9 741.4 152.4 743.7 151.9 C746.1 151.4 749 151.1 751.4 152.5 C753.8 153.9 756.4 157.8 757.8 160.2 C759.2 162.5 760.1 164.7 759.7 166.6 C759.3 168.5 757.1 171.3 755.2 171.7 C753.3 172.1 750.5 170.7 748.2 169.2 C745.9 167.7 743 165.1 741.2 162.8 C739.4 160.6 736.9 157.5 737.3 155.7 Z" class="w"/>
<path d="M730.9 169.2 C732.1 167.6 734.7 166 737.3 166 C739.9 166 743.8 167.7 746.3 169.2 C748.8 170.7 751.3 172.8 752 174.9 C752.7 177 751.9 180.7 750.7 181.9 C749.5 183.1 747.6 182.1 745 181.9 C742.4 181.7 737.2 181.8 734.8 180.7 C732.3 179.6 730.9 177.4 730.3 175.5 C729.6 173.6 729.7 170.8 730.9 169.2 Z" class="w"/>
<path d="M739.2 161.5 C739.5 162.2 739.2 164.2 741.2 166 C743.2 167.8 749.7 171.2 751.4 172.3"/>
<path d="M734.8 161.5 L738.6 167.2"/>
<path d="M758.7 191.4 L759.9 191.9 L761.2 192.1 L762.6 192.1 L764 191.7 L765.6 191.2 L767.1 190.3 L768.6 189.3 L770.1 188 L771.6 186.5 L772.9 184.8 L774.1 183 L775.2 181.1 L776.2 179.2 L776.9 177.2 L777.5 175.2 L777.8 173.3 L778 171.4 L777.9 169.6 L777.7 168 L777.2 166.6 L776.5 165.4 L775.7 164.4 L774.7 163.6 L773.5 163.1 L772.2 162.9 L770.8 162.9 L769.4 163.3 L767.8 163.8 L766.3 164.7 L764.8 165.7 L763.3 167 L761.8 168.5 L760.5 170.2 L759.3 172 L758.2 173.9 L757.2 175.8 L756.5 177.8 L755.9 179.8 L755.6 181.7 L755.4 183.6 L755.5 185.4 L755.7 187 L756.2 188.4 L756.9 189.6 L757.7 190.6 L758.7 191.4 Z" class="w"/>
<path d="M768.2 166.8 L777 171.9"/>
<path d="M765 170.2 L775.6 176.3"/>
<path d="M762.4 173.9 L773.7 180.4"/>
<path d="M760.3 177.9 L771.3 184.2"/>
<path d="M758.7 182.1 L768.5 187.7"/>
<path d="M757.9 186.3 L765.3 190.5"/>
<path d="M805.7 180.7 C804.1 180.6 799.2 179 796.1 180.1 C793 181.2 789.7 184 787.2 187.1 C784.8 190.2 782.4 194.8 781.4 198.6 C780.4 202.4 780.2 206.8 781.4 210.1 C782.6 213.4 787.3 217 788.5 218.4"/>
<path d="M788.5 218.4 L793.6 217.1 L793 210.7 L789.8 210.1"/>
<path d="M801.3 184.5 C800 184.6 796.2 183.3 793.6 185.2 C791 187.1 787.5 192.3 785.9 196 C784.3 199.7 783.8 204.7 784 207.5 C784.2 210.3 786.2 212.3 787.2 212.7 C788.2 213.1 789.4 210.5 789.8 210.1"/>
<path d="M805.7 180.7 C806.1 182 808.4 185 808.3 188.4 C808.2 191.8 806.1 197.6 805.1 201.2 C804.1 204.8 803.6 208.1 802.5 210.1 C801.4 212.1 799.3 212.8 798.7 213.3"/>
<path d="M801.3 184.5 C801.8 184.9 804.3 184.8 804.5 187.1 C804.7 189.4 803.4 195.2 802.5 198.6 C801.6 202 799.8 206 799.3 207.5"/>
<path d="M798.7 213.3 L798.7 208.2 L799.3 207.5"/>
<path d="M806.2 180 L817.5 163.8 L876.2 197.5 L868.4 215.2"/>
<path d="M868.4 215.9 C867.1 215.8 863.7 213.8 860.7 215.2 C857.7 216.6 853.3 220.6 850.5 224.2 C847.7 227.8 844.9 233.2 844.1 237 C843.4 240.8 844.8 244.9 846 247.2 C847.2 249.5 850.2 250.4 851.1 251"/>
<path d="M851.1 251 L851.1 254.2 L854.9 254.2 L855.6 247.8 L852.4 246.6"/>
<path d="M864.5 219.1 C863.2 219.3 859.4 218.2 856.9 220.3 C854.4 222.4 850.8 228.3 849.2 231.9 C847.6 235.5 847.3 239.4 847.3 242.1 C847.3 244.8 848.4 247.1 849.2 247.8 C850.1 248.6 851.9 246.8 852.4 246.6"/>
<path d="M868.4 215.9 C868.9 216.8 871.3 218.9 871.6 221.6 C871.9 224.3 871.3 228.3 870.3 231.9 C869.3 235.5 867.5 240.4 865.8 243.4 C864.1 246.4 861 248.7 860.1 249.8"/>
<path d="M864.5 219.1 C865 219.5 867.1 219.7 867.7 221.6 C868.4 223.5 868.9 227.6 868.4 230.6 C867.9 233.6 866 237.4 864.5 239.5 C863 241.6 860.2 242.8 859.4 243.4"/>
<path d="M860.1 249.8 L858.8 249.1 L859.4 243.4"/>
<path d="M865.2 260 L872.2 255.5 L869.6 249.1 L871.6 246 L878.6 243.4 L881.2 237 L879.9 232.5 L883.7 230.6 L887.5 232.5 L888.8 228 L891.4 223.5 L896.5 222.3 L899.7 219.7 L904.2 218.4 L909.3 220.3 L911.8 225.5"/>
<path d="M878.6 243.4 L885 245.9 L886.3 242.1 L882.5 236.5"/>
<path d="M888.2 236 L896.5 233.1 L897.1 228 L893.3 224.2"/>
<path d="M904.2 229.3 L906.7 228.7 L908 220.3"/>
<path d="M872.2 255.5 L878 260.6 L879.2 256.2 L874.8 249.1"/>
<path d="M915.7 222.9 C916.8 224.2 920.5 227.4 922.1 230.6 C923.7 233.8 924.8 240.2 925.3 242.1" class="d2"/>
<path d="M865.2 260.3 C865.1 262 864.2 267.4 864.5 270.6 C864.8 273.8 865.4 276.9 867.1 279.5 C868.8 282.1 871.8 284.3 874.8 285.9 C877.8 287.5 882.5 288.8 885 289.1 C887.5 289.4 889.2 288 890.1 287.8"/>
<path d="M870.9 261.6 C870.6 263.1 869 267.8 869 270.6 C869 273.4 870.6 276.9 870.9 278.2"/>
<path d="M925.9 245.9 C925.7 245.3 925.7 244.1 924.6 242.1 C923.5 240.1 921.6 235.6 919.5 233.8 C917.4 232 915.2 230.9 911.8 231.2 C908.4 231.5 903.1 233 899.1 235.7 C895.1 238.4 890.3 242.9 887.5 247.2 C884.7 251.5 883.4 257.3 882.4 261.3 C881.4 265.3 881.2 268.2 881.2 271 C881.2 273.8 881.4 275.8 882.4 278.2 C883.4 280.6 885.1 283.9 887.5 285.3 C889.9 286.7 894.1 286.6 896.5 286.6 C898.9 286.6 900.8 285.5 901.6 285.3"/>
<path d="M922.1 243.4 C920.6 242.9 916.5 240.2 913.1 240.2 C909.7 240.2 905 241.4 901.6 243.4 C898.2 245.4 894.9 248.9 892.7 252.3 C890.5 255.7 889.1 260.4 888.2 263.8 C887.3 267.2 886.9 270.6 887.2 273 C887.5 275.4 888.6 276.7 890.1 278.2 C891.6 279.7 895.4 281.5 896.5 282.1"/>
<path d="M901.9 285.5 L903.5 286.2 L905.3 286.5 L907.3 286.5 L909.4 286 L911.5 285.2 L913.7 284 L915.8 282.5 L917.9 280.7 L919.9 278.6 L921.8 276.3 L923.6 273.8 L925.1 271.1 L926.4 268.4 L927.5 265.6 L928.3 262.8 L928.8 260 L929 257.4 L928.9 255 L928.5 252.7 L927.9 250.7 L926.9 249 L925.7 247.6 L924.3 246.5 L922.7 245.8 L920.9 245.5 L918.9 245.5 L916.8 246 L914.7 246.8 L912.5 248 L910.4 249.5 L908.3 251.3 L906.3 253.4 L904.4 255.7 L902.6 258.2 L901.1 260.9 L899.8 263.6 L898.7 266.4 L897.9 269.2 L897.4 272 L897.2 274.6 L897.3 277 L897.7 279.3 L898.3 281.3 L899.3 283 L900.5 284.4 L901.9 285.5 Z" class="w"/>
<path d="M904.3 280.5 L905.6 281.1 L906.9 281.3 L908.4 281.3 L910 280.9 L911.6 280.3 L913.2 279.4 L914.9 278.3 L916.5 276.9 L918 275.3 L919.4 273.6 L920.7 271.7 L921.9 269.7 L922.8 267.6 L923.7 265.5 L924.2 263.4 L924.6 261.3 L924.8 259.3 L924.7 257.5 L924.5 255.7 L924 254.2 L923.3 252.9 L922.4 251.9 L921.3 251.1 L920 250.5 L918.7 250.3 L917.2 250.3 L915.6 250.7 L914 251.3 L912.4 252.2 L910.7 253.3 L909.1 254.7 L907.6 256.3 L906.2 258 L904.9 259.9 L903.7 261.9 L902.8 264 L901.9 266.1 L901.4 268.2 L901 270.3 L900.8 272.3 L900.9 274.1 L901.1 275.9 L901.6 277.4 L902.3 278.7 L903.2 279.7 L904.3 280.5 Z"/>
<path d="M923.5 255.4 L922.8 254.4 L922 253.5 L920.9 252.9 L919.8 252.5 L918.5 252.4 L917.2 252.6 L915.8 252.9 L914.4 253.6 L912.9 254.4 L911.5 255.5 L910.1 256.8 L908.8 258.2 L907.5 259.8 L906.4 261.6 L905.4 263.4 L904.6 265.2 L903.9 267.1 L903.5 268.9 L903.2 270.8 L903.1 272.5 L903.2 274.1 L903.5 275.6 L903.9 276.9 L904.6 278 L905.4 278.9 L906.4 279.6 L907.5 280 L908.7 280.2 L910.1 280.1 L911.5 279.8 L912.9 279.2"/>
<path d="M915 254.4 L923.9 259.5"/>
<path d="M911.8 257.7 L922.7 264"/>
<path d="M909.1 261.4 L920.8 268.1"/>
<path d="M906.9 265.3 L918.6 272"/>
<path d="M905.1 269.5 L915.8 275.7"/>
<path d="M903.9 274 L912.6 279"/>
<path d="M929.1 309.7 L931.4 310.7 L934 311.1 L936.7 311.1 L939.6 310.5 L942.6 309.3 L945.6 307.7 L948.6 305.6 L951.5 303 L954.4 300.1 L957 296.9 L959.4 293.4 L961.5 289.7 L963.4 285.8 L964.8 281.9 L965.9 278 L966.7 274.2 L967 270.5 L966.9 267.1 L966.3 263.9 L965.4 261.1 L964.1 258.7 L962.4 256.8 L960.5 255.3 L958.2 254.3 L955.6 253.9 L952.9 253.9 L950 254.5 L947 255.7 L944 257.3 L941 259.4 L938.1 262 L935.2 264.9 L932.6 268.1 L930.2 271.6 L928.1 275.3 L926.2 279.2 L924.8 283.1 L923.7 287 L922.9 290.8 L922.6 294.5 L922.7 297.9 L923.3 301.1 L924.2 303.9 L925.5 306.3 L927.2 308.2 L929.1 309.7 Z" class="w"/>
<path d="M933.3 301.4 L934.9 302 L936.6 302.3 L938.4 302.3 L940.4 301.9 L942.4 301.1 L944.4 300 L946.5 298.6 L948.5 296.9 L950.4 294.9 L952.1 292.7 L953.8 290.3 L955.2 287.8 L956.4 285.2 L957.4 282.6 L958.2 280 L958.7 277.4 L958.9 274.9 L958.8 272.6 L958.4 270.5 L957.8 268.6 L956.9 266.9 L955.8 265.6 L954.5 264.6 L952.9 264 L951.2 263.7 L949.4 263.7 L947.4 264.1 L945.4 264.9 L943.4 266 L941.3 267.4 L939.3 269.1 L937.4 271.1 L935.7 273.3 L934 275.7 L932.6 278.2 L931.4 280.8 L930.4 283.4 L929.6 286 L929.1 288.6 L928.9 291.1 L929 293.4 L929.4 295.5 L930 297.4 L930.9 299.1 L932 300.4 L933.3 301.4 Z"/>
<path d="M938.8 278.8 L960 290.5"/>
<path d="M796.2 125.5 C797.2 127.6 799.9 134.7 802.4 138.3 C804.9 142 809.6 145.9 811 147.4"/>
<path d="M811 147.4 C812.3 147.9 816.3 149.9 819 150.5 C821.7 151.1 824.1 151.2 827.1 151.2 C830.1 151.1 833.5 151 836.7 150.2 C839.9 149.4 844.6 147 846.2 146.4" class="d2"/>
<path d="M857.6 127.4 C856.8 128.7 854.4 133.1 853 135 C851.6 136.9 850.1 136.9 849 138.8 C847.9 140.7 846.7 145.1 846.2 146.4"/>
<path d="M802.4 138.3 C804 138.8 808.5 140.8 812 141.5 C815.5 142.2 819 142.5 823.3 142.6 C827.6 142.7 833.7 142.4 838 141.8 C842.3 141.2 847.2 139.3 849 138.8" class="d2"/>
<path d="M796.2 125.5 L799.5 118.8 L802.4 117.4 L810 118.3 L811.4 112.6 L814.8 110.7 L817.6 112.1 L819.5 114 L824.3 113.6 L825.2 110.7 L829 109.3 L832.4 110.7 L833.3 113.6 L836.7 114 L838.6 112.1 L841.4 111 L844.8 113.6 L844.3 117.4 L846.2 117.9 L853.8 117.9 L854.8 120.7 L851.9 123.6 L849 123.6 L856.2 124 L857.6 127.4"/>
<path d="M799.5 118.8 L804.3 120.2 L803.3 123.1 L799.5 123.6 L796.5 125"/>
<path d="M819.8 114.7 L817.4 115.3 L815.2 116.2 L813.3 117.1 L811.5 118.2 L810.1 119.5 L809 120.8 L808.3 122.2 L807.9 123.6 L807.8 125.1 L808.2 126.5 L808.8 127.9 L809.9 129.3 L811.2 130.5 L812.9 131.6 L814.8 132.6 L816.9 133.5 L819.3 134.2 L821.8 134.7 L824.4 135 L827 135.1 L829.6 135 L832.2 134.7 L834.7 134.2 L837.1 133.5 L839.2 132.6 L841.1 131.6 L842.8 130.5 L844.1 129.3 L845.2 127.9 L845.8 126.5 L846.2 125.1 L846.1 123.6 L845.7 122.2 L845 120.8 L843.9 119.5 L842.5 118.2 L840.7 117.1 L838.8 116.2 L836.6 115.3 L834.2 114.7"/>
<path d="M818.1 120.2 L825.2 115.5 L834.8 116.4 L839 121.2 L832.9 126 L827.1 126.9 L819.5 123.1 Z"/>
<path d="M828.5 152.5 L828.5 283" class="d"/>
<path d="M828.5 283 L829 290.5"/>
<path d="M839 282.4 C840.3 283.5 843.9 286.3 846.7 289 C849.5 291.7 854.1 296.1 855.7 298.6 C857.3 301.2 857.4 302.1 856.2 304.3 C855 306.5 851.6 309.8 848.6 311.9 C845.6 314 839.8 316.1 838 317"/>
<path d="M812.4 284.3 C810.5 285.6 803.5 288.9 801 291.9 C798.5 294.9 797 299.2 797.1 302.4 C797.2 305.6 801.1 309.6 801.9 311"/>
<path d="M801.9 311 C803.1 311.7 806.3 314.2 809 315.2 C811.7 316.2 814.9 316.7 818.1 317.1 C821.3 317.5 824.7 317.8 828 317.8 C831.3 317.8 836.3 317.1 838 317" class="d2"/>
<path d="M813.3 285.7 C812.5 286.5 809.2 288.8 808.6 290.5 C808 292.2 807.9 293.9 809.5 295.7 C811.1 297.4 816.7 300.1 818.1 301"/>
<path d="M818.1 301 C820 301.2 825.7 302.8 829.5 302.4 C833.3 302 838.3 300 841 298.6 C843.7 297.2 844.9 294.6 845.7 293.8" class="d2"/>
<path d="M839.1 291.4 L839 290.6 L838.7 289.8 L838.2 289 L837.5 288.3 L836.6 287.6 L835.6 287 L834.4 286.5 L833.2 286 L831.8 285.7 L830.3 285.5 L828.9 285.4 L827.3 285.4 L825.9 285.5 L824.4 285.7 L823 286 L821.8 286.5 L820.6 287 L819.6 287.6 L818.7 288.3 L818 289 L817.5 289.8 L817.2 290.6 L817.1 291.4 L817.2 292.2 L817.5 293 L818 293.8 L818.7 294.5 L819.6 295.2 L820.6 295.8 L821.8 296.3 L823 296.8 L824.4 297.1 L825.9 297.3 L827.3 297.4 L828.9 297.4 L830.3 297.3 L831.8 297.1 L833.2 296.8 L834.4 296.3 L835.6 295.8 L836.6 295.2 L837.5 294.5 L838.2 293.8 L838.7 293 L839 292.2 L839.1 291.4 Z"/>
<path d="M812.4 284.3 L817 282.3 L819.5 284.5 L821.5 283"/>
<path d="M817.3 285.5 L818.8 283.2"/>
<path d="M825.5 284.5 L829.5 281.2 L832.5 284.8"/>
<path d="M834.8 284.5 L837.5 282.2 L840.5 283.2 L845 288.5 L843 290.5 L838.5 286.5"/>
<path d="M841 287.1 L856.2 301.4"/>
<path d="M846.7 294.3 L855.2 303.3"/>
<!-- p_pin -->
<path d="M584.8 239.1 L584.8 337.5 L584.8 337.5 L585.2 339.3 L586.4 341 L588.3 342.4 L590.7 343.6 L593.5 344.3 L596.6 344.5 L599.7 344.3 L602.5 343.6 L604.9 342.4 L606.8 341 L608 339.3 L608.4 337.5 L608.4 239.1" class="w"/>
<path d="M608.4 239.1 L608.3 238.1 L608 237.2 L607.4 236.3 L606.7 235.4 L605.8 234.6 L604.7 233.9 L603.4 233.3 L602 232.8 L600.6 232.4 L599 232.2 L597.4 232 L595.8 232 L594.2 232.2 L592.6 232.4 L591.2 232.8 L589.8 233.3 L588.5 233.9 L587.4 234.6 L586.5 235.4 L585.8 236.3 L585.2 237.2 L584.9 238.1 L584.8 239.1 L584.9 240.1 L585.2 241 L585.8 241.9 L586.5 242.8 L587.4 243.6 L588.5 244.3 L589.8 244.9 L591.2 245.4 L592.6 245.8 L594.2 246 L595.8 246.2 L597.4 246.2 L599 246 L600.6 245.8 L602 245.4 L603.4 244.9 L604.7 244.3 L605.8 243.6 L606.7 242.8 L607.4 241.9 L608 241 L608.3 240.1 L608.4 239.1 Z" class="w"/>
<path d="M607.8 253.8 L598.8 257.6 L598.8 276.2 L607.8 273"/>
<path d="M607.8 308.5 L598.8 312.3 L598.8 332.3 L607.8 329"/>
<!-- p_lbearing -->
<path d="M409.5 302.1 L406.2 300.7 L402.5 300 L398.6 300.1 L394.4 301 L390.2 302.5 L385.9 304.8 L381.6 307.8 L377.5 311.3 L373.5 315.4 L369.8 320 L366.5 324.9 L363.6 330.2 L361.1 335.6 L359.1 341.1 L357.6 346.6 L356.8 352 L356.5 357.2 L356.8 362.1 L357.6 366.5 L359.1 370.5 L361 373.9 L363.5 376.7 L366.5 378.8 L383.5 388.4 L386.8 389.8 L390.5 390.4 L394.4 390.3 L398.6 389.5 L402.8 387.9 L407.1 385.6 L411.4 382.7 L415.5 379.1 L419.5 375 L423.2 370.5 L426.5 365.5 L429.4 360.3 L431.9 354.8 L433.9 349.3 L435.3 343.8 L436.2 338.4 L436.5 333.3 L436.2 328.4 L435.4 323.9 L433.9 320 L431.9 316.5 L429.5 313.7 L426.5 311.6 Z" class="w"/>
<path d="M383.5 388.4 L386.8 389.8 L390.5 390.4 L394.4 390.3 L398.6 389.5 L402.8 387.9 L407.1 385.6 L411.4 382.7 L415.5 379.1 L419.5 375 L423.2 370.5 L426.5 365.5 L429.4 360.3 L431.9 354.8 L433.9 349.3 L435.3 343.8 L436.2 338.4 L436.5 333.3 L436.2 328.4 L435.4 323.9 L433.9 320 L431.9 316.5 L429.5 313.7 L426.5 311.6 L423.2 310.2 L419.5 309.6 L415.6 309.7 L411.4 310.5 L407.2 312.1 L402.9 314.4 L398.6 317.3 L394.5 320.9 L390.5 325 L386.8 329.5 L383.5 334.5 L380.6 339.7 L378.1 345.2 L376.1 350.7 L374.7 356.2 L373.8 361.6 L373.5 366.7 L373.8 371.6 L374.6 376.1 L376.1 380 L378.1 383.5 L380.5 386.3 L383.5 388.4 Z" class="w"/>
<path d="M385.1 385.5 L388.2 386.8 L391.6 387.4 L395.2 387.3 L399 386.5 L403 385.1 L407 383 L410.9 380.2 L414.7 376.9 L418.4 373.1 L421.8 368.9 L424.9 364.3 L427.6 359.5 L429.9 354.5 L431.7 349.4 L433.1 344.3 L433.9 339.3 L434.2 334.5 L433.9 330 L433.1 325.9 L431.8 322.2 L429.9 319 L427.6 316.5 L424.9 314.5 L421.8 313.2 L418.4 312.6 L414.8 312.7 L411 313.5 L407 314.9 L403 317 L399.1 319.8 L395.3 323.1 L391.6 326.9 L388.2 331.1 L385.1 335.7 L382.4 340.5 L380.1 345.5 L378.3 350.6 L376.9 355.7 L376.1 360.7 L375.8 365.5 L376.1 370 L376.9 374.1 L378.2 377.8 L380.1 381 L382.4 383.5 L385.1 385.5 Z"/>
<path d="M389.3 377.9 L391.8 378.9 L394.4 379.4 L397.3 379.3 L400.3 378.7 L403.4 377.6 L406.5 375.9 L409.6 373.8 L412.7 371.2 L415.5 368.2 L418.2 364.9 L420.6 361.3 L422.8 357.5 L424.6 353.5 L426 349.5 L427.1 345.5 L427.7 341.6 L427.9 337.8 L427.7 334.3 L427.1 331 L426 328.1 L424.6 325.7 L422.8 323.6 L420.7 322.1 L418.2 321.1 L415.6 320.6 L412.7 320.7 L409.7 321.3 L406.6 322.4 L403.5 324.1 L400.4 326.2 L397.3 328.8 L394.5 331.8 L391.8 335.1 L389.4 338.7 L387.2 342.5 L385.4 346.5 L384 350.5 L382.9 354.5 L382.3 358.4 L382.1 362.2 L382.3 365.7 L382.9 369 L384 371.9 L385.4 374.3 L387.2 376.4 L389.3 377.9 Z"/>
<path d="M394.7 368.3 L396.3 369 L398.1 369.3 L400 369.3 L401.9 368.9 L404 368.1 L406 367 L408.1 365.6 L410 363.9 L411.9 361.9 L413.7 359.8 L415.3 357.4 L416.7 354.9 L417.8 352.3 L418.8 349.7 L419.5 347 L419.9 344.5 L420 342 L419.9 339.7 L419.5 337.6 L418.8 335.7 L417.9 334 L416.7 332.7 L415.3 331.7 L413.7 331 L411.9 330.7 L410 330.7 L408.1 331.1 L406 331.9 L404 333 L401.9 334.4 L400 336.1 L398.1 338.1 L396.3 340.2 L394.7 342.6 L393.3 345.1 L392.2 347.7 L391.2 350.3 L390.5 353 L390.1 355.5 L390 358 L390.1 360.3 L390.5 362.4 L391.2 364.3 L392.1 366 L393.3 367.3 L394.7 368.3 Z"/>
<path d="M403.9 335.5 C403.3 337.1 401.6 342.2 400.1 345.3 C398.6 348.4 396.4 352 395 354.3 C393.6 356.6 392.3 358.5 391.8 359.4"/>
<path d="M400.1 346.6 L419.3 357.5"/>
<path d="M416.7 357.5 L424.4 367.1"/>
<!-- p_ring -->
<path d="M486.5 297.1 L466.7 307.4 L472.4 319.2 L469.8 321.4 L453.2 316 L460.5 329.2 L457.4 332.3 L441 327.5 L449.4 341.3 L445.8 345.1 L431.2 340 L436.2 353.5 L434.6 359.2 L418 356.9 L424.4 366.4 L428.3 369.9 L426.7 373.6 L412.3 372.5 L415.6 380.8 L406.6 385.9 L421.3 386.9 L420 390 L405.3 389.4 L409.2 397.1 L401.5 403.8 L415.6 401.6 L413.7 406 L400.2 404.8 L399 404.8 L398.4 404.4 L397.2 416.1 L397.2 427.4 L398.4 438.1 L400.8 448 L404.4 456.9 L409.1 464.8 L414.8 471.4 L421.5 476.7 L429 480.6 L437.3 483 L470 470 L520 380 L520 310 Z" class="wn"/>
<path d="M486.5 297.1 L466.7 307.4 L472.4 319.2 L469.8 321.4 L453.2 316 L460.5 329.2 L457.4 332.3 L441 327.5 L449.4 341.3 L445.8 345.1 L431.2 340 L436.2 353.5 L434.6 359.2 L418 356.9 L424.4 366.4 L428.3 369.9 L426.7 373.6 L412.3 372.5 L415.6 380.8 L406.6 385.9 L421.3 386.9 L420 390 L405.3 389.4 L409.2 397.1 L401.5 403.8 L415.6 401.6 L413.7 406 L400.2 404.8"/>
<path d="M459.6 315.7 L469.2 319.5"/>
<path d="M447.5 327.2 L457.4 330.4"/>
<path d="M437 339.5 L446 343"/>
<path d="M424.4 366.4 L414.2 370.9"/>
<path d="M398.4 404.4 L397.1 417.1 L397.3 429.3 L398.9 440.7 L401.9 451.2 L406.3 460.4 L411.9 468.3 L418.8 474.7 L426.6 479.5 L435.3 482.6 L444.8 483.9 L454.8 483.5"/>
<path d="M413.3 419 L412.9 430.6 L413.9 441.5 L416.1 451.7 L419.6 460.9 L424.2 468.9 L430 475.6 L436.7 481 L444.3 484.9 L452.7 487.2 L461.7 487.9 L471.2 487"/>
<path d="M488.4 295.2 L492.9 295"/>
<path d="M528.4 299.1 L521.2 295.2 L513.3 292.7 L504.8 291.5"/>
<path d="M538.7 309 L532.3 305.7 L525.4 303.5 L518 302.4"/>
<path d="M514.4 302.2 L505.2 303 L495.8 305.2 L486.2 309" class="d2"/>
<path d="M445.4 482.9 L453.3 486.3 L462 488.1 L471.3 488.2 L481 486.6 L490.9 483.4 L500.8 478.5 L510.6 472.2 L520.1 464.5 L529 455.6 L537.3 445.6 L544.8 434.7 L551.3 423.1 L556.7 411 L560.9 398.7 L563.9 386.4 L565.5 374.4 L565.8 362.7 L564.7 351.7 L562.3 341.6 L558.6 332.5 L553.7 324.6 L547.7 318.2 L540.6 313.1 L532.7 309.7 L524 307.9 L514.7 307.8 L505 309.4 L495.1 312.6 L485.2 317.5 L475.4 323.8 L465.9 331.5 L457 340.4 L448.7 350.4 L441.2 361.3 L434.7 372.9 L429.3 385 L425.1 397.3 L422.1 409.6 L420.5 421.6 L420.2 433.3 L421.3 444.3 L423.7 454.4 L427.4 463.5 L432.3 471.4 L438.3 477.8 L445.4 482.9 Z" class="w"/>
<path d="M568.3 360.9 L566.5 350.7 L563.3 341.5 L558.9 333.5 L553.4 326.8 L546.9 321.4 L539.4 317.7 L531.1 315.5 L522.3 314.9 L513 316 L503.4 318.8 L493.8 323.1 L484.2 328.9 L475 336.1 L466.2 344.6 L458 354.1 L450.6 364.6 L444.2 375.7 L438.7 387.3 L434.5 399.2 L431.5 411.2 L429.7 422.9 L429.3 434.3 L430.3 445 L432.5 454.9 L436 463.8 L440.7 471.4 L446.6 477.8"/>
<path d="M565 346.7 L561 338.6 L555.9 331.7 L549.7 326.2 L542.7 322.2 L534.8 319.7 L526.4 318.8 L517.4 319.5 L508.2 321.8 L498.8 325.6 L489.5 330.9 L480.4 337.6 L471.7 345.5 L463.6 354.6 L456.3 364.5 L449.8 375.2 L444.2 386.4 L439.8 397.9 L436.6 409.5 L434.6 421 L433.9 432.2 L434.5 442.7 L436.3 452.6 L439.4 461.4 L443.7 469.2 L449.1 475.7"/>
<path d="M470 460.5 L475.3 462.8 L481.2 464 L487.5 464.1 L494 463 L500.7 460.9 L507.4 457.6 L514.1 453.3 L520.5 448.1 L526.5 442.1 L532.1 435.3 L537.2 427.9 L541.6 420.1 L545.2 412 L548.1 403.6 L550.1 395.3 L551.2 387.1 L551.4 379.3 L550.7 371.8 L549 365 L546.6 358.8 L543.2 353.5 L539.1 349.1 L534.4 345.8 L529 343.4 L523.1 342.2 L516.8 342.2 L510.3 343.2 L503.6 345.4 L496.9 348.7 L490.3 352.9 L483.9 358.2 L477.8 364.2 L472.2 371 L467.1 378.3 L462.7 386.2 L459.1 394.3 L456.2 402.6 L454.2 411 L453.1 419.1 L452.9 427 L453.6 434.4 L455.3 441.3 L457.8 447.4 L461.1 452.7 L465.2 457.1 L470 460.5 Z"/>
<path d="M445.8 434.1 L448.2 439.6 L451.4 444.4 L455.2 448.4 L459.6 451.5 L464.5 453.6 L469.8 454.8 L475.6 455 L481.5 454.1 L487.7 452.3 L493.8 449.6 L499.9 445.9 L505.9 441.4"/>
<path d="M511.9 335.9 L512.3 336.1 L512.8 336.1 L513.3 336.1 L513.8 336 L514.3 335.8 L514.9 335.5 L515.4 335.2 L515.9 334.7 L516.4 334.2 L516.9 333.6 L517.3 333 L517.7 332.3 L518 331.6 L518.3 330.9 L518.5 330.2 L518.6 329.5 L518.6 328.9 L518.6 328.2 L518.5 327.7 L518.3 327.2 L518 326.7 L517.7 326.4 L517.3 326.1 L516.9 325.9 L516.4 325.9 L515.9 325.9 L515.4 326 L514.9 326.2 L514.3 326.5 L513.8 326.8 L513.3 327.3 L512.8 327.8 L512.3 328.4 L511.9 329 L511.5 329.7 L511.2 330.4 L510.9 331.1 L510.7 331.8 L510.6 332.5 L510.6 333.1 L510.6 333.8 L510.7 334.3 L510.9 334.8 L511.2 335.3 L511.5 335.6 L511.9 335.9 Z"/>
<path d="M518.5 328 L518.3 327.8 L517.9 327.6 L517.6 327.5 L517.2 327.5 L516.7 327.6 L516.3 327.7 L515.9 327.9 L515.4 328.2 L515 328.5 L514.6 328.9 L514.2 329.4 L513.8 329.9 L513.5 330.4 L513.2 331 L513 331.5 L512.8 332.1 L512.7 332.7 L512.6 333.2 L512.6 333.7 L512.7 334.2 L512.8 334.7 L513 335"/>
<path d="M538.8 338.5 L539.2 338.7 L539.7 338.7 L540.2 338.7 L540.7 338.6 L541.2 338.4 L541.8 338.1 L542.3 337.8 L542.8 337.3 L543.3 336.8 L543.8 336.2 L544.2 335.6 L544.6 334.9 L544.9 334.2 L545.2 333.5 L545.4 332.8 L545.5 332.1 L545.5 331.5 L545.5 330.8 L545.4 330.3 L545.2 329.8 L544.9 329.3 L544.6 329 L544.2 328.7 L543.8 328.5 L543.3 328.5 L542.8 328.5 L542.3 328.6 L541.8 328.8 L541.2 329.1 L540.7 329.4 L540.2 329.9 L539.7 330.4 L539.2 331 L538.8 331.6 L538.4 332.3 L538.1 333 L537.8 333.7 L537.6 334.4 L537.5 335.1 L537.5 335.7 L537.5 336.4 L537.6 336.9 L537.8 337.4 L538.1 337.9 L538.4 338.2 L538.8 338.5 Z"/>
<path d="M545.4 330.6 L545.2 330.4 L544.8 330.2 L544.5 330.1 L544.1 330.1 L543.6 330.2 L543.2 330.3 L542.8 330.5 L542.3 330.8 L541.9 331.1 L541.5 331.5 L541.1 332 L540.7 332.5 L540.4 333 L540.1 333.6 L539.9 334.1 L539.7 334.7 L539.6 335.3 L539.5 335.8 L539.5 336.3 L539.6 336.8 L539.7 337.3 L539.9 337.6"/>
<path d="M553.5 359.6 L553.9 359.8 L554.4 359.8 L554.9 359.8 L555.4 359.7 L555.9 359.5 L556.5 359.2 L557 358.9 L557.5 358.4 L558 357.9 L558.5 357.3 L558.9 356.7 L559.3 356 L559.6 355.3 L559.9 354.6 L560.1 353.9 L560.2 353.2 L560.2 352.6 L560.2 351.9 L560.1 351.4 L559.9 350.9 L559.6 350.4 L559.3 350.1 L558.9 349.8 L558.5 349.6 L558 349.6 L557.5 349.6 L557 349.7 L556.5 349.9 L555.9 350.2 L555.4 350.5 L554.9 351 L554.4 351.5 L553.9 352.1 L553.5 352.7 L553.1 353.4 L552.8 354.1 L552.5 354.8 L552.3 355.5 L552.2 356.2 L552.2 356.8 L552.2 357.5 L552.3 358 L552.5 358.5 L552.8 359 L553.1 359.3 L553.5 359.6 Z"/>
<path d="M560.1 351.7 L559.9 351.5 L559.5 351.3 L559.2 351.2 L558.8 351.2 L558.3 351.3 L557.9 351.4 L557.5 351.6 L557 351.9 L556.6 352.2 L556.2 352.6 L555.8 353.1 L555.4 353.6 L555.1 354.1 L554.8 354.7 L554.6 355.2 L554.4 355.8 L554.3 356.4 L554.2 356.9 L554.2 357.4 L554.3 357.9 L554.4 358.4 L554.6 358.7"/>
<path d="M481.9 353.2 L482.3 353.4 L482.8 353.4 L483.3 353.4 L483.8 353.3 L484.3 353.1 L484.9 352.8 L485.4 352.5 L485.9 352 L486.4 351.5 L486.9 350.9 L487.3 350.3 L487.7 349.6 L488 348.9 L488.3 348.2 L488.5 347.5 L488.6 346.8 L488.6 346.2 L488.6 345.5 L488.5 345 L488.3 344.5 L488 344 L487.7 343.7 L487.3 343.4 L486.9 343.2 L486.4 343.2 L485.9 343.2 L485.4 343.3 L484.9 343.5 L484.3 343.8 L483.8 344.1 L483.3 344.6 L482.8 345.1 L482.3 345.7 L481.9 346.3 L481.5 347 L481.2 347.7 L480.9 348.4 L480.7 349.1 L480.6 349.8 L480.6 350.4 L480.6 351.1 L480.7 351.6 L480.9 352.1 L481.2 352.6 L481.5 352.9 L481.9 353.2 Z"/>
<path d="M488.5 345.3 L488.3 345.1 L487.9 344.9 L487.6 344.8 L487.2 344.8 L486.7 344.9 L486.3 345 L485.9 345.2 L485.4 345.5 L485 345.8 L484.6 346.2 L484.2 346.7 L483.8 347.2 L483.5 347.7 L483.2 348.3 L483 348.8 L482.8 349.4 L482.7 350 L482.6 350.5 L482.6 351 L482.7 351.5 L482.8 352 L483 352.3"/>
<path d="M457.6 384.7 L458 384.9 L458.5 384.9 L459 384.9 L459.5 384.8 L460 384.6 L460.6 384.3 L461.1 384 L461.6 383.5 L462.1 383 L462.6 382.4 L463 381.8 L463.4 381.1 L463.7 380.4 L464 379.7 L464.2 379 L464.3 378.3 L464.3 377.7 L464.3 377 L464.2 376.5 L464 376 L463.7 375.5 L463.4 375.2 L463 374.9 L462.6 374.7 L462.1 374.7 L461.6 374.7 L461.1 374.8 L460.6 375 L460 375.3 L459.5 375.6 L459 376.1 L458.5 376.6 L458 377.2 L457.6 377.8 L457.2 378.5 L456.9 379.2 L456.6 379.9 L456.4 380.6 L456.3 381.3 L456.3 381.9 L456.3 382.6 L456.4 383.1 L456.6 383.6 L456.9 384.1 L457.2 384.4 L457.6 384.7 Z"/>
<path d="M464.2 376.8 L464 376.6 L463.6 376.4 L463.3 376.3 L462.9 376.3 L462.4 376.4 L462 376.5 L461.6 376.7 L461.1 377 L460.7 377.3 L460.3 377.7 L459.9 378.2 L459.5 378.7 L459.2 379.2 L458.9 379.8 L458.7 380.3 L458.5 380.9 L458.4 381.5 L458.3 382 L458.3 382.5 L458.4 383 L458.5 383.5 L458.7 383.8"/>
<path d="M442.3 421.8 L442.7 422 L443.2 422 L443.7 422 L444.2 421.9 L444.7 421.7 L445.3 421.4 L445.8 421.1 L446.3 420.6 L446.8 420.1 L447.3 419.5 L447.7 418.9 L448.1 418.2 L448.4 417.5 L448.7 416.8 L448.9 416.1 L449 415.4 L449 414.8 L449 414.1 L448.9 413.6 L448.7 413.1 L448.4 412.6 L448.1 412.3 L447.7 412 L447.3 411.8 L446.8 411.8 L446.3 411.8 L445.8 411.9 L445.3 412.1 L444.7 412.4 L444.2 412.7 L443.7 413.2 L443.2 413.7 L442.7 414.3 L442.3 414.9 L441.9 415.6 L441.6 416.3 L441.3 417 L441.1 417.7 L441 418.4 L441 419 L441 419.7 L441.1 420.2 L441.3 420.7 L441.6 421.2 L441.9 421.5 L442.3 421.8 Z"/>
<path d="M448.9 413.9 L448.7 413.7 L448.3 413.5 L448 413.4 L447.6 413.4 L447.1 413.5 L446.7 413.6 L446.3 413.8 L445.8 414.1 L445.4 414.4 L445 414.8 L444.6 415.3 L444.2 415.8 L443.9 416.3 L443.6 416.9 L443.4 417.4 L443.2 418 L443.1 418.6 L443 419.1 L443 419.6 L443.1 420.1 L443.2 420.6 L443.4 420.9"/>
<path d="M442.3 454.8 L442.7 455 L443.2 455 L443.7 455 L444.2 454.9 L444.7 454.7 L445.3 454.4 L445.8 454.1 L446.3 453.6 L446.8 453.1 L447.3 452.5 L447.7 451.9 L448.1 451.2 L448.4 450.5 L448.7 449.8 L448.9 449.1 L449 448.4 L449 447.8 L449 447.1 L448.9 446.6 L448.7 446.1 L448.4 445.6 L448.1 445.3 L447.7 445 L447.3 444.8 L446.8 444.8 L446.3 444.8 L445.8 444.9 L445.3 445.1 L444.7 445.4 L444.2 445.7 L443.7 446.2 L443.2 446.7 L442.7 447.3 L442.3 447.9 L441.9 448.6 L441.6 449.3 L441.3 450 L441.1 450.7 L441 451.4 L441 452 L441 452.7 L441.1 453.2 L441.3 453.7 L441.6 454.2 L441.9 454.5 L442.3 454.8 Z"/>
<path d="M448.9 446.9 L448.7 446.7 L448.3 446.5 L448 446.4 L447.6 446.4 L447.1 446.5 L446.7 446.6 L446.3 446.8 L445.8 447.1 L445.4 447.4 L445 447.8 L444.6 448.3 L444.2 448.8 L443.9 449.3 L443.6 449.9 L443.4 450.4 L443.2 451 L443.1 451.6 L443 452.1 L443 452.6 L443.1 453.1 L443.2 453.6 L443.4 453.9"/>
<path d="M457.6 476.6 L458 476.8 L458.5 476.8 L459 476.8 L459.5 476.7 L460 476.5 L460.6 476.2 L461.1 475.9 L461.6 475.4 L462.1 474.9 L462.6 474.3 L463 473.7 L463.4 473 L463.7 472.3 L464 471.6 L464.2 470.9 L464.3 470.2 L464.3 469.6 L464.3 468.9 L464.2 468.4 L464 467.9 L463.7 467.4 L463.4 467.1 L463 466.8 L462.6 466.6 L462.1 466.6 L461.6 466.6 L461.1 466.7 L460.6 466.9 L460 467.2 L459.5 467.5 L459 468 L458.5 468.5 L458 469.1 L457.6 469.7 L457.2 470.4 L456.9 471.1 L456.6 471.8 L456.4 472.5 L456.3 473.2 L456.3 473.8 L456.3 474.5 L456.4 475 L456.6 475.5 L456.9 476 L457.2 476.3 L457.6 476.6 Z"/>
<path d="M464.2 468.7 L464 468.5 L463.6 468.3 L463.3 468.2 L462.9 468.2 L462.4 468.3 L462 468.4 L461.6 468.6 L461.1 468.9 L460.7 469.2 L460.3 469.6 L459.9 470.1 L459.5 470.6 L459.2 471.1 L458.9 471.7 L458.7 472.2 L458.5 472.8 L458.4 473.4 L458.3 473.9 L458.3 474.4 L458.4 474.9 L458.5 475.4 L458.7 475.7"/>
<path d="M482.6 479.8 L483 480 L483.5 480 L484 480 L484.5 479.9 L485 479.7 L485.6 479.4 L486.1 479.1 L486.6 478.6 L487.1 478.1 L487.6 477.5 L488 476.9 L488.4 476.2 L488.7 475.5 L489 474.8 L489.2 474.1 L489.3 473.4 L489.3 472.8 L489.3 472.1 L489.2 471.6 L489 471.1 L488.7 470.6 L488.4 470.3 L488 470 L487.6 469.8 L487.1 469.8 L486.6 469.8 L486.1 469.9 L485.6 470.1 L485 470.4 L484.5 470.7 L484 471.2 L483.5 471.7 L483 472.3 L482.6 472.9 L482.2 473.6 L481.9 474.3 L481.6 475 L481.4 475.7 L481.3 476.4 L481.3 477 L481.3 477.7 L481.4 478.2 L481.6 478.7 L481.9 479.2 L482.2 479.5 L482.6 479.8 Z"/>
<path d="M489.2 471.9 L489 471.7 L488.6 471.5 L488.3 471.4 L487.9 471.4 L487.4 471.5 L487 471.6 L486.6 471.8 L486.1 472.1 L485.7 472.4 L485.3 472.8 L484.9 473.3 L484.5 473.8 L484.2 474.3 L483.9 474.9 L483.7 475.4 L483.5 476 L483.4 476.6 L483.3 477.1 L483.3 477.6 L483.4 478.1 L483.5 478.6 L483.7 478.9"/>
<path d="M512.6 463.1 L513 463.3 L513.5 463.3 L514 463.3 L514.5 463.2 L515 463 L515.6 462.7 L516.1 462.4 L516.6 461.9 L517.1 461.4 L517.6 460.8 L518 460.2 L518.4 459.5 L518.7 458.8 L519 458.1 L519.2 457.4 L519.3 456.7 L519.3 456.1 L519.3 455.4 L519.2 454.9 L519 454.4 L518.7 453.9 L518.4 453.6 L518 453.3 L517.6 453.1 L517.1 453.1 L516.6 453.1 L516.1 453.2 L515.6 453.4 L515 453.7 L514.5 454 L514 454.5 L513.5 455 L513 455.6 L512.6 456.2 L512.2 456.9 L511.9 457.6 L511.6 458.3 L511.4 459 L511.3 459.7 L511.3 460.3 L511.3 461 L511.4 461.5 L511.6 462 L511.9 462.5 L512.2 462.8 L512.6 463.1 Z"/>
<path d="M519.2 455.2 L519 455 L518.6 454.8 L518.3 454.7 L517.9 454.7 L517.4 454.8 L517 454.9 L516.6 455.1 L516.1 455.4 L515.7 455.7 L515.3 456.1 L514.9 456.6 L514.5 457.1 L514.2 457.6 L513.9 458.2 L513.7 458.7 L513.5 459.3 L513.4 459.9 L513.3 460.4 L513.3 460.9 L513.4 461.4 L513.5 461.9 L513.7 462.2"/>
<!-- p_case -->
<path d="M517.5 343.8 L518.8 364.3" class="d2"/>
<path d="M532.2 345.1 C533.2 347.5 536.8 354.5 538 359.2 C539.2 363.9 539 370.9 539.2 373.2"/>
<path d="M520.7 380.9 C519.9 381.3 515.9 382.6 515.6 383.5 C515.3 384.4 519.3 385.1 518.8 386 C518.3 386.9 512.8 387.6 512.4 388.6 C512 389.6 516.7 390.7 516.2 391.8 C515.7 392.9 509.7 393.9 509.2 395 C508.7 396.1 513.6 397.1 513 398.2 C512.4 399.3 505.9 400.3 505.3 401.4 C504.7 402.5 509.8 403.7 509.2 404.6 C508.6 405.6 502 406 501.5 407.1 C501 408.2 506.5 409.9 506 411 C505.5 412.1 499.3 412.6 498.7 413.7 C498.1 414.8 503.8 415.6 502.5 417.5 C501.2 419.4 492.3 423.5 491 425.2 C489.7 426.9 495.8 426.8 494.9 427.8 C494 428.8 486.8 430.2 485.9 431.4 C485 432.6 491.6 433.7 489.7 435.2 C487.8 436.7 476.9 439.4 474.4 440.3"/>
<path d="M457.8 448.7 L466.7 444.2"/>
<path d="M471.8 386.9 L482.1 392"/>
<path d="M487.2 395.8 L496.1 400.9"/>
<path d="M498.5 402.3 L505.1 404.1"/>
<path d="M504.7 359.2 L540.5 379 L536.7 385.4 L502.8 367.5" class="wn"/>
<path d="M504.7 359.2 L540.5 379"/>
<path d="M502.8 367.5 L536.7 385.4"/>
<path d="M504.7 359.2 C504.2 359.5 502.2 360.1 501.6 361 C501 361.9 500.6 363.4 500.8 364.5 C501 365.6 502.5 367 502.8 367.5"/>
<path d="M536.7 385.5 L537 385.6 L537.3 385.7 L537.7 385.7 L538 385.6 L538.4 385.5 L538.8 385.3 L539.2 385 L539.5 384.7 L539.9 384.4 L540.2 384 L540.5 383.5 L540.7 383.1 L540.9 382.6 L541.1 382.1 L541.2 381.7 L541.3 381.2 L541.3 380.8 L541.3 380.3 L541.2 379.9 L541.1 379.6 L540.9 379.3 L540.7 379.1 L540.5 378.9 L540.2 378.8 L539.9 378.7 L539.5 378.7 L539.2 378.8 L538.8 378.9 L538.4 379.1 L538 379.4 L537.7 379.7 L537.3 380 L537 380.4 L536.7 380.9 L536.5 381.3 L536.3 381.8 L536.1 382.3 L536 382.7 L535.9 383.2 L535.9 383.6 L535.9 384.1 L536 384.5 L536.1 384.8 L536.3 385.1 L536.5 385.3 L536.7 385.5 Z" class="w"/>
<path d="M541.5 384.3 L549.5 388.1"/>
<path d="M522 372 L606.4 357.9"/>
<path d="M505.3 414.1 L514.3 400.5 L527.6 393.3 L535.2 393.8 L544.8 398.6 L557.1 397.6 L566.7 390.5 L581 384.8 L596.2 390 L634.5 411 L640 470 L600 540 L574.4 516.9 L545 500.9 L532.2 484.3 L525.8 465.1 L520.7 440 L510.5 437.1 L505.3 429.4 Z" class="wn"/>
<path d="M505.1 404.1 C506 405.1 510 407.9 510.2 409.9 C510.4 411.9 507.2 414.3 506.4 416.3 C505.6 418.3 505.4 419.9 505.3 422 C505.2 424.1 504.8 426.5 505.7 429 C506.6 431.5 508.2 435.1 510.5 437.1 C512.8 439.1 517.9 440.3 519.4 440.9"/>
<path d="M505.7 413.8 C507.1 411.6 510.6 403.9 514.3 400.5 C517.9 397.1 524.1 394.4 527.6 393.3 C531.1 392.2 532.3 392.9 535.2 393.8 C538.1 394.7 543.2 397.8 544.8 398.6"/>
<path d="M536.2 388.5 L535.2 393.8"/>
<path d="M544.8 398.6 C545.8 398.7 549 399.5 551 399.3 C553 399.1 554.5 399.1 557.1 397.6 C559.7 396.1 562.7 392.6 566.7 390.5 C570.7 388.4 578.6 385.8 581 384.8"/>
<path d="M581 384.8 L596.2 390"/>
<path d="M596.2 390 L634.5 411"/>
<path d="M566.7 390.5 L581.9 396.7 L595.2 392.9"/>
<path d="M561 395.7 L570.5 400.5"/>
<path d="M558.1 399.5 L569.5 404.3"/>
<path d="M544.8 398.6 C542.9 400.5 536.7 405.6 533.3 410 C529.9 414.4 526.6 420.5 524.5 425 C522.4 429.5 520.9 432.7 520.7 437.1 C520.5 441.5 522.4 446.5 523.2 451.2 C524.1 455.9 524.3 459.6 525.8 465.1 C527.3 470.6 529 478.3 532.2 484.3 C535.4 490.3 538 495.5 545 500.9 C552 506.3 569.5 514.2 574.4 516.9"/>
<path d="M549.5 399.5 C547.6 401.6 541.4 407.6 538.1 411.9 C534.8 416.1 531.7 421.6 529.6 425 C527.5 428.4 526.4 430.8 525.8 432"/>
<path d="M570.5 403.3 C568.6 405.2 562.2 411.2 559 414.8 C555.8 418.4 552.7 423.5 551.4 425.2"/>
<path d="M524.8 447 C525 445.2 525.2 438.8 526.2 436 C527.2 433.2 528.4 431.6 530.9 430 C533.4 428.4 538.2 426.6 541.2 426.2 C544.2 425.8 547.5 427.3 548.8 427.5"/>
<path d="M548.8 427.5 L594.9 452.4"/>
<path d="M591 459.5 L546 441.5 L542.4 442.5 L542.4 481.7 L546.3 492 L574.4 508"/>
<path d="M543.7 483 C545 483.8 548 486.9 551.4 487.5 C554.8 488.1 559.9 488.1 564.2 486.9 C568.5 485.7 573.6 482.6 577 480.5 C580.4 478.4 583.3 475.2 584.6 474.1"/>
<path d="M557.8 444.1 C557.4 446.3 555.2 453.8 555.2 457.5 C555.2 461.2 555.9 463.9 557.8 466.5 C559.7 469.1 563.5 472.5 566.7 472.9 C569.9 473.3 573.8 471.2 577 469.1 C580.2 467 584.4 461.6 585.9 460.1"/>
<path d="M561 446.7 C560.9 448.3 559.6 453.5 560.3 456.3 C561 459.1 563 462.2 565.4 463.3 C567.8 464.4 571.6 463.7 574.4 462.7 C577.2 461.7 580.8 458.4 582.1 457.5"/>
<path d="M634.5 411.5 C631.7 413.9 622.8 420.9 617.9 425.6 C613 430.3 608.9 434.9 605.1 439.6 C601.3 444.3 596.6 451.4 594.9 453.7"/>
<path d="M608.5 405.2 L608.4 404.3 L608.1 403.4 L607.6 402.5 L606.8 401.7 L605.9 401 L604.9 400.3 L603.7 399.7 L602.3 399.2 L600.9 398.9 L599.4 398.6 L597.9 398.5 L596.3 398.5 L594.8 398.6 L593.3 398.9 L591.9 399.2 L590.5 399.7 L589.3 400.3 L588.3 401 L587.4 401.7 L586.6 402.5 L586.1 403.4 L585.8 404.3 L585.7 405.2 L585.8 406.1 L586.1 407 L586.6 407.9 L587.4 408.7 L588.3 409.4 L589.3 410.1 L590.5 410.7 L591.9 411.2 L593.3 411.5 L594.8 411.8 L596.3 411.9 L597.9 411.9 L599.4 411.8 L600.9 411.5 L602.3 411.2 L603.7 410.7 L604.9 410.1 L605.9 409.4 L606.8 408.7 L607.6 407.9 L608.1 407 L608.4 406.1 L608.5 405.2 Z"/>
<path d="M586.8 406.4 L587.4 407.2 L588.2 408 L589.1 408.7 L590.2 409.3 L591.4 409.8 L592.7 410.2 L594.2 410.5 L595.6 410.6 L597.1 410.7 L598.6 410.6 L600 410.5 L601.5 410.2 L602.8 409.8 L604 409.3 L605.1 408.7 L606 408 L606.8 407.2 L607.4 406.4"/>
<path d="M597.1 346.5 L597.1 408" class="d"/>
<path d="M685.6 398.9 L678.7 396 L671.1 394.7 L662.9 394.9 L654.3 396.7 L645.5 400.1 L636.5 404.9 L627.7 411.2 L619 418.7 L610.8 427.3 L603.1 436.9 L596.1 447.3 L589.9 458.3 L584.7 469.7 L580.5 481.2 L577.5 492.7 L575.6 504 L574.9 514.8 L575.4 525 L577.1 534.3 L580.1 542.6 L584.1 549.7 L589.2 555.5 L595.2 559.9 L604.8 565.2 L611.7 568.1 L619.3 569.4 L627.5 569.2 L636.1 567.4 L644.9 564 L653.9 559.2 L662.7 552.9 L671.4 545.4 L679.6 536.8 L687.3 527.2 L694.3 516.8 L700.5 505.8 L705.7 494.5 L709.9 482.9 L712.9 471.4 L714.8 460.1 L715.5 449.3 L715 439.1 L713.3 429.8 L710.4 421.5 L706.3 414.4 L701.2 408.6 L695.2 404.3 Z" class="w"/>
<path d="M604.8 565.2 L611.7 568.1 L619.3 569.4 L627.5 569.2 L636.1 567.4 L644.9 564 L653.9 559.2 L662.7 552.9 L671.4 545.4 L679.6 536.8 L687.3 527.2 L694.3 516.8 L700.5 505.8 L705.7 494.5 L709.9 482.9 L712.9 471.4 L714.8 460.1 L715.5 449.3 L715 439.1 L713.3 429.8 L710.4 421.5 L706.3 414.4 L701.2 408.6 L695.2 404.3 L688.3 401.4 L680.7 400.1 L672.5 400.3 L663.9 402.1 L655.1 405.5 L646.1 410.3 L637.3 416.6 L628.6 424.1 L620.4 432.7 L612.7 442.3 L605.7 452.7 L599.5 463.7 L594.3 475 L590.1 486.6 L587.1 498.1 L585.2 509.4 L584.5 520.2 L585 530.4 L586.7 539.7 L589.6 548 L593.7 555.1 L598.8 560.9 L604.8 565.2 Z" class="w"/>
<path d="M622.1 538.5 L626.7 540.4 L631.8 541.4 L637.2 541.3 L642.9 540.3 L648.7 538.2 L654.6 535.2 L660.4 531.3 L666 526.6 L671.4 521.1 L676.4 515 L680.9 508.4 L684.8 501.3 L688.1 494.1 L690.7 486.6 L692.6 479.2 L693.7 472 L694 465 L693.5 458.4 L692.2 452.3 L690.2 446.9 L687.4 442.3 L683.9 438.5 L679.9 435.5 L675.3 433.6 L670.2 432.6 L664.8 432.7 L659.1 433.7 L653.3 435.8 L647.4 438.8 L641.6 442.7 L636 447.4 L630.6 452.9 L625.6 459 L621.1 465.6 L617.2 472.7 L613.9 479.9 L611.3 487.4 L609.4 494.8 L608.3 502 L608 509 L608.5 515.6 L609.8 521.7 L611.8 527.1 L614.6 531.7 L618.1 535.5 L622.1 538.5 Z"/>
<path d="M662.1 425.2 L662.6 425.5 L663.1 425.6 L663.7 425.6 L664.3 425.5 L665 425.3 L665.6 425 L666.2 424.6 L666.8 424.2 L667.4 423.6 L667.9 423 L668.3 422.3 L668.8 421.6 L669.1 420.9 L669.3 420.1 L669.5 419.4 L669.6 418.6 L669.6 417.9 L669.5 417.2 L669.4 416.6 L669.1 416 L668.8 415.5 L668.4 415.1 L667.9 414.8 L667.4 414.5 L666.9 414.4 L666.3 414.4 L665.7 414.5 L665 414.7 L664.4 415 L663.8 415.4 L663.2 415.8 L662.6 416.4 L662.1 417 L661.7 417.7 L661.2 418.4 L660.9 419.1 L660.7 419.9 L660.5 420.6 L660.4 421.4 L660.4 422.1 L660.5 422.8 L660.6 423.4 L660.9 424 L661.2 424.5 L661.6 424.9 L662.1 425.2 Z"/>
<path d="M689.6 431.5 L690.1 431.8 L690.6 431.9 L691.2 431.9 L691.8 431.8 L692.5 431.6 L693.1 431.3 L693.7 430.9 L694.3 430.5 L694.9 429.9 L695.4 429.3 L695.8 428.6 L696.3 427.9 L696.6 427.2 L696.8 426.4 L697 425.7 L697.1 424.9 L697.1 424.2 L697 423.5 L696.9 422.9 L696.6 422.3 L696.3 421.8 L695.9 421.4 L695.4 421.1 L694.9 420.8 L694.4 420.7 L693.8 420.7 L693.2 420.8 L692.5 421 L691.9 421.3 L691.3 421.7 L690.7 422.1 L690.1 422.7 L689.6 423.3 L689.2 424 L688.7 424.7 L688.4 425.4 L688.2 426.2 L688 426.9 L687.9 427.7 L687.9 428.4 L688 429.1 L688.1 429.7 L688.4 430.3 L688.7 430.8 L689.1 431.2 L689.6 431.5 Z"/>
<path d="M629.6 445.2 L630.1 445.5 L630.6 445.6 L631.2 445.6 L631.8 445.5 L632.5 445.3 L633.1 445 L633.7 444.6 L634.3 444.2 L634.9 443.6 L635.4 443 L635.8 442.3 L636.3 441.6 L636.6 440.9 L636.8 440.1 L637 439.4 L637.1 438.6 L637.1 437.9 L637 437.2 L636.9 436.6 L636.6 436 L636.3 435.5 L635.9 435.1 L635.4 434.8 L634.9 434.5 L634.4 434.4 L633.8 434.4 L633.2 434.5 L632.5 434.7 L631.9 435 L631.3 435.4 L630.7 435.8 L630.1 436.4 L629.6 437 L629.2 437.7 L628.7 438.4 L628.4 439.1 L628.2 439.9 L628 440.6 L627.9 441.4 L627.9 442.1 L628 442.8 L628.1 443.4 L628.4 444 L628.7 444.5 L629.1 444.9 L629.6 445.2 Z"/>
<path d="M700.9 462.7 L701.4 463 L701.9 463.1 L702.5 463.1 L703.1 463 L703.8 462.8 L704.4 462.5 L705 462.1 L705.6 461.7 L706.2 461.1 L706.7 460.5 L707.1 459.8 L707.6 459.1 L707.9 458.4 L708.1 457.6 L708.3 456.9 L708.4 456.1 L708.4 455.4 L708.3 454.7 L708.2 454.1 L707.9 453.5 L707.6 453 L707.2 452.6 L706.7 452.3 L706.2 452 L705.7 451.9 L705.1 451.9 L704.5 452 L703.8 452.2 L703.2 452.5 L702.6 452.9 L702 453.3 L701.4 453.9 L700.9 454.5 L700.5 455.2 L700 455.9 L699.7 456.6 L699.5 457.4 L699.3 458.1 L699.2 458.9 L699.2 459.6 L699.3 460.3 L699.4 460.9 L699.7 461.5 L700 462 L700.4 462.4 L700.9 462.7 Z"/>
<path d="M604.1 481.5 L604.6 481.8 L605.1 481.9 L605.7 481.9 L606.3 481.8 L607 481.6 L607.6 481.3 L608.2 480.9 L608.8 480.5 L609.4 479.9 L609.9 479.3 L610.3 478.6 L610.8 477.9 L611.1 477.2 L611.3 476.4 L611.5 475.7 L611.6 474.9 L611.6 474.2 L611.5 473.5 L611.4 472.9 L611.1 472.3 L610.8 471.8 L610.4 471.4 L609.9 471.1 L609.4 470.8 L608.9 470.7 L608.3 470.7 L607.7 470.8 L607 471 L606.4 471.3 L605.8 471.7 L605.2 472.1 L604.6 472.7 L604.1 473.3 L603.7 474 L603.2 474.7 L602.9 475.4 L602.7 476.2 L602.5 476.9 L602.4 477.7 L602.4 478.4 L602.5 479.1 L602.6 479.7 L602.9 480.3 L603.2 480.8 L603.6 481.2 L604.1 481.5 Z"/>
<path d="M690.9 502.7 L691.4 503 L691.9 503.1 L692.5 503.1 L693.1 503 L693.8 502.8 L694.4 502.5 L695 502.1 L695.6 501.7 L696.2 501.1 L696.7 500.5 L697.1 499.8 L697.6 499.1 L697.9 498.4 L698.1 497.6 L698.3 496.9 L698.4 496.1 L698.4 495.4 L698.3 494.7 L698.2 494.1 L697.9 493.5 L697.6 493 L697.2 492.6 L696.7 492.3 L696.2 492 L695.7 491.9 L695.1 491.9 L694.5 492 L693.8 492.2 L693.2 492.5 L692.6 492.9 L692 493.3 L691.4 493.9 L690.9 494.5 L690.5 495.2 L690 495.9 L689.7 496.6 L689.5 497.4 L689.3 498.1 L689.2 498.9 L689.2 499.6 L689.3 500.3 L689.4 500.9 L689.7 501.5 L690 502 L690.4 502.4 L690.9 502.7 Z"/>
<path d="M593.4 523.2 L593.9 523.5 L594.4 523.6 L595 523.6 L595.6 523.5 L596.3 523.3 L596.9 523 L597.5 522.6 L598.1 522.2 L598.7 521.6 L599.2 521 L599.6 520.3 L600.1 519.6 L600.4 518.9 L600.6 518.1 L600.8 517.4 L600.9 516.6 L600.9 515.9 L600.8 515.2 L600.7 514.6 L600.4 514 L600.1 513.5 L599.7 513.1 L599.2 512.8 L598.7 512.5 L598.2 512.4 L597.6 512.4 L597 512.5 L596.3 512.7 L595.7 513 L595.1 513.4 L594.5 513.8 L593.9 514.4 L593.4 515 L593 515.7 L592.5 516.4 L592.2 517.1 L592 517.9 L591.8 518.6 L591.7 519.4 L591.7 520.1 L591.8 520.8 L591.9 521.4 L592.2 522 L592.5 522.5 L592.9 522.9 L593.4 523.2 Z"/>
<path d="M664.6 540.7 L665.1 541 L665.6 541.1 L666.2 541.1 L666.8 541 L667.5 540.8 L668.1 540.5 L668.7 540.1 L669.3 539.7 L669.9 539.1 L670.4 538.5 L670.8 537.8 L671.3 537.1 L671.6 536.4 L671.8 535.6 L672 534.9 L672.1 534.1 L672.1 533.4 L672 532.7 L671.9 532.1 L671.6 531.5 L671.3 531 L670.9 530.6 L670.4 530.3 L669.9 530 L669.4 529.9 L668.8 529.9 L668.2 530 L667.5 530.2 L666.9 530.5 L666.3 530.9 L665.7 531.3 L665.1 531.9 L664.6 532.5 L664.2 533.2 L663.7 533.9 L663.4 534.6 L663.2 535.4 L663 536.1 L662.9 536.9 L662.9 537.6 L663 538.3 L663.1 538.9 L663.4 539.5 L663.7 540 L664.1 540.4 L664.6 540.7 Z"/>
<path d="M604.6 553.2 L605.1 553.5 L605.6 553.6 L606.2 553.6 L606.8 553.5 L607.5 553.3 L608.1 553 L608.7 552.6 L609.3 552.2 L609.9 551.6 L610.4 551 L610.8 550.3 L611.3 549.6 L611.6 548.9 L611.8 548.1 L612 547.4 L612.1 546.6 L612.1 545.9 L612 545.2 L611.9 544.6 L611.6 544 L611.3 543.5 L610.9 543.1 L610.4 542.8 L609.9 542.5 L609.4 542.4 L608.8 542.4 L608.2 542.5 L607.5 542.7 L606.9 543 L606.3 543.4 L605.7 543.8 L605.1 544.4 L604.6 545 L604.2 545.7 L603.7 546.4 L603.4 547.1 L603.2 547.9 L603 548.6 L602.9 549.4 L602.9 550.1 L603 550.8 L603.1 551.4 L603.4 552 L603.7 552.5 L604.1 552.9 L604.6 553.2 Z"/>
<path d="M629.6 559.5 L630.1 559.8 L630.6 559.9 L631.2 559.9 L631.8 559.8 L632.5 559.6 L633.1 559.3 L633.7 558.9 L634.3 558.5 L634.9 557.9 L635.4 557.3 L635.8 556.6 L636.3 555.9 L636.6 555.2 L636.8 554.4 L637 553.7 L637.1 552.9 L637.1 552.2 L637 551.5 L636.9 550.9 L636.6 550.3 L636.3 549.8 L635.9 549.4 L635.4 549.1 L634.9 548.8 L634.4 548.7 L633.8 548.7 L633.2 548.8 L632.5 549 L631.9 549.3 L631.3 549.7 L630.7 550.1 L630.1 550.7 L629.6 551.3 L629.2 552 L628.7 552.7 L628.4 553.4 L628.2 554.2 L628 554.9 L627.9 555.7 L627.9 556.4 L628 557.1 L628.1 557.7 L628.4 558.3 L628.7 558.8 L629.1 559.2 L629.6 559.5 Z"/>
<path d="M641.2 468.6 C639.9 470.5 635.5 476.7 633.5 480.1 C631.5 483.5 629.9 486 629 489 C628.1 492 628.1 494.8 628.4 498 C628.7 501.2 628.8 505.6 630.9 508.2 C633 510.8 638.4 512.8 641.2 513.4 C644 514 646.5 512.3 647.5 512.1"/>
<path d="M641.2 468.6 C644 467.3 653.8 461.6 657.8 460.9 C661.8 460.1 663.4 462.7 665.4 464.1 C667.4 465.5 669 467.4 669.9 469.2 C670.8 471 670.5 474 670.6 475"/>
<path d="M656.5 469.2 C655 469.7 650.3 470.6 647.5 472.4 C644.7 474.2 641.9 477.5 639.9 480.1 C637.9 482.7 636.5 485.2 635.8 488 C635 490.8 634.5 493.8 635.4 496.7 C636.3 499.6 638.8 503.1 641.2 505.7 C643.7 508.3 648.6 511 650.1 512.1"/>
<path d="M656.5 469.2 L680.2 482"/>
<path d="M651.4 513.4 L665.4 520.4"/>
<path d="M658.7 515.3 L660.1 515.9 L661.7 516.1 L663.4 516.1 L665.1 515.7 L667 515 L668.8 514 L670.6 512.7 L672.4 511.2 L674.1 509.4 L675.7 507.4 L677.1 505.3 L678.4 503 L679.5 500.7 L680.3 498.3 L681 495.9 L681.3 493.6 L681.5 491.4 L681.4 489.3 L681 487.4 L680.4 485.7 L679.6 484.2 L678.5 483 L677.3 482.1 L675.9 481.5 L674.3 481.3 L672.6 481.3 L670.9 481.7 L669 482.4 L667.2 483.4 L665.4 484.7 L663.6 486.2 L661.9 488 L660.3 490 L658.9 492.1 L657.6 494.4 L656.5 496.7 L655.7 499.1 L655 501.5 L654.7 503.8 L654.5 506 L654.6 508.1 L655 510 L655.6 511.7 L656.4 513.2 L657.5 514.4 L658.7 515.3 Z" class="w"/>
<path d="M660.7 511.6 L661.8 512 L663 512.3 L664.3 512.2 L665.7 511.9 L667.2 511.4 L668.6 510.6 L670.1 509.6 L671.5 508.4 L672.8 507 L674.1 505.4 L675.2 503.7 L676.2 501.9 L677 500.1 L677.7 498.2 L678.2 496.3 L678.5 494.5 L678.7 492.7 L678.6 491.1 L678.3 489.6 L677.8 488.2 L677.2 487.1 L676.3 486.1 L675.3 485.4 L674.2 485 L673 484.7 L671.7 484.8 L670.3 485.1 L668.8 485.6 L667.4 486.4 L665.9 487.4 L664.5 488.6 L663.2 490 L661.9 491.6 L660.8 493.3 L659.8 495.1 L659 496.9 L658.3 498.8 L657.8 500.7 L657.5 502.5 L657.3 504.3 L657.4 505.9 L657.7 507.4 L658.2 508.8 L658.8 509.9 L659.7 510.9 L660.7 511.6 Z"/>
<path d="M677.8 490.6 L677.3 489.4 L676.7 488.4 L676 487.5 L675.1 486.9 L674 486.6 L672.9 486.4 L671.7 486.5 L670.4 486.8 L669.1 487.3 L667.8 488 L666.5 489 L665.3 490.1 L664.1 491.4 L663 492.8 L662 494.3 L661.1 495.9 L660.4 497.6 L659.8 499.3 L659.3 501 L659.1 502.6 L659 504.2 L659.1 505.7 L659.4 507 L659.8 508.2 L660.4 509.2 L661.2 510 L662.1 510.6 L663.1 511 L664.2 511.2 L665.4 511.1 L666.7 510.8 L668 510.3"/>
<path d="M664.2 496.7 L677 502.5"/>
<path d="M632.8 453.9 L641.2 469.2"/>
<path d="M625.8 462.8 L640.5 469"/>
<path d="M647.5 441.1 L645.6 452 L659.1 459.6"/>
<path d="M666.7 432.8 L659.7 459"/>
<path d="M674.4 434.7 L676.3 439.2 L662.9 452"/>
<path d="M676.3 439.2 L688.5 444.3"/>
<path d="M688.5 446.9 L669.9 466.7"/>
<path d="M679.5 460.9 L675.7 477.5"/>
<path d="M679.5 481.4 L688.5 486.5 L684.6 489.1 L681 484.5"/>
<path d="M613.7 484 L627.7 491.6"/>
<path d="M610.5 494.2 L627.7 491.3"/>
<path d="M607.9 505.7 L617.5 498.7 L627.7 503.8"/>
<path d="M609.8 524.2 L627.7 508.9 L620.1 533.2 L615.6 536.4"/>
<path d="M616.2 535.1 L634.1 542.1"/>
<path d="M641.2 515.9 L635.4 540.2"/>
<path d="M641.2 515.9 L639.9 524.2 L651.4 515.9 L665.4 523.6 L663.5 517.8"/>
<path d="M682.1 504.4 L691 510.8"/>
<path d="M693.6 512.7 L700 514.6 L706 511.5"/>
<path d="M696.8 428.3 L703.2 432.8"/>
<path d="M708.3 436 L712.1 437.9"/>
<!-- p_right -->
<path d="M929.2 398.4 L925.6 396.8 L921.6 395.9 L917.4 395.8 L913.1 396.4 L908.6 397.8 L904.1 399.9 L899.6 402.7 L895.3 406.1 L891.2 410.1 L887.5 414.5 L884.1 419.4 L881.1 424.5 L878.7 429.9 L876.7 435.4 L875.4 440.9 L874.6 446.3 L874.5 451.6 L874.9 456.5 L876 461.1 L877.7 465.2 L879.9 468.8 L882.6 471.7 L885.8 474 L901 482.7 L904.6 484.3 L908.6 485.2 L912.8 485.3 L917.2 484.7 L921.7 483.3 L926.2 481.2 L930.6 478.4 L934.9 475 L939 471 L942.7 466.6 L946.1 461.7 L949.1 456.6 L951.6 451.2 L953.5 445.7 L954.8 440.2 L955.6 434.8 L955.7 429.5 L955.3 424.6 L954.2 420 L952.5 415.9 L950.3 412.3 L947.6 409.4 L944.4 407.1 Z" class="w"/>
<path d="M901 482.7 L904.6 484.3 L908.6 485.2 L912.8 485.3 L917.2 484.7 L921.7 483.3 L926.2 481.2 L930.6 478.4 L934.9 475 L939 471 L942.7 466.6 L946.1 461.7 L949.1 456.6 L951.6 451.2 L953.5 445.7 L954.8 440.2 L955.6 434.8 L955.7 429.5 L955.3 424.6 L954.2 420 L952.5 415.9 L950.3 412.3 L947.6 409.4 L944.4 407.1 L940.8 405.5 L936.8 404.6 L932.6 404.5 L928.2 405.1 L923.7 406.5 L919.2 408.6 L914.8 411.4 L910.5 414.8 L906.4 418.8 L902.7 423.2 L899.3 428.1 L896.3 433.2 L893.8 438.6 L891.9 444.1 L890.6 449.6 L889.8 455 L889.7 460.3 L890.1 465.2 L891.2 469.8 L892.9 473.9 L895.1 477.5 L897.8 480.4 L901 482.7 Z" class="w"/>
<path d="M905.5 475 L908.3 476.3 L911.5 477 L914.8 477.1 L918.3 476.5 L921.9 475.4 L925.5 473.8 L929 471.6 L932.4 468.9 L935.7 465.7 L938.6 462.2 L941.4 458.3 L943.7 454.2 L945.7 449.9 L947.2 445.5 L948.3 441.2 L948.9 436.8 L949 432.7 L948.6 428.7 L947.8 425.1 L946.4 421.8 L944.7 419 L942.5 416.6 L939.9 414.8 L937.1 413.5 L933.9 412.8 L930.6 412.7 L927.1 413.3 L923.5 414.4 L919.9 416 L916.4 418.2 L913 420.9 L909.7 424.1 L906.8 427.6 L904 431.5 L901.7 435.6 L899.7 439.9 L898.2 444.3 L897.1 448.6 L896.5 453 L896.4 457.1 L896.8 461.1 L897.6 464.7 L899 468 L900.7 470.8 L902.9 473.2 L905.5 475 Z"/>
<path d="M909.9 467.3 L912 468.2 L914.3 468.7 L916.8 468.8 L919.4 468.4 L922.1 467.6 L924.7 466.4 L927.4 464.7 L929.9 462.7 L932.3 460.4 L934.6 457.7 L936.6 454.9 L938.3 451.8 L939.8 448.6 L940.9 445.4 L941.7 442.1 L942.2 438.9 L942.3 435.8 L942 432.9 L941.3 430.2 L940.3 427.7 L939 425.6 L937.4 423.9 L935.5 422.5 L933.4 421.6 L931.1 421.1 L928.6 421 L926 421.4 L923.3 422.2 L920.7 423.4 L918 425.1 L915.5 427.1 L913.1 429.4 L910.8 432.1 L908.8 434.9 L907.1 438 L905.6 441.2 L904.5 444.4 L903.7 447.7 L903.2 450.9 L903.1 454 L903.4 456.9 L904.1 459.6 L905.1 462.1 L906.4 464.2 L908 465.9 L909.9 467.3 Z"/>
<path d="M913.9 461.3 L915.5 462.1 L917.2 462.4 L919.1 462.5 L921 462.2 L923 461.6 L925 460.7 L927 459.4 L928.9 457.9 L930.7 456.2 L932.4 454.2 L933.9 452.1 L935.2 449.8 L936.3 447.4 L937.1 445 L937.7 442.5 L938.1 440.1 L938.1 437.8 L937.9 435.6 L937.4 433.6 L936.7 431.8 L935.7 430.2 L934.5 428.9 L933.1 427.9 L931.5 427.1 L929.8 426.8 L927.9 426.7 L926 427 L924 427.6 L922 428.5 L920 429.8 L918.1 431.3 L916.3 433 L914.6 435 L913.1 437.1 L911.8 439.4 L910.7 441.8 L909.9 444.2 L909.3 446.7 L908.9 449.1 L908.9 451.4 L909.1 453.6 L909.6 455.6 L910.3 457.4 L911.3 459 L912.5 460.3 L913.9 461.3 Z"/>
<path d="M922.7 430.4 C922.3 432 921.2 437.3 920.1 440 C919 442.7 917.5 444.6 916 446.5 C914.5 448.4 912 450.7 911.2 451.5"/>
<path d="M920.1 441.3 L929.7 448.3"/>
<path d="M938 453 L951.4 460.7"/>
<path d="M982.3 444.2 L980.1 443.3 L977.8 442.9 L975.3 443 L972.6 443.6 L969.9 444.6 L967.1 446.1 L964.3 448.1 L961.6 450.4 L959 453.1 L956.6 456.1 L954.4 459.3 L952.4 462.7 L950.7 466.3 L949.4 469.9 L948.4 473.5 L947.7 477 L947.5 480.4 L947.6 483.5 L948.1 486.4 L948.9 489 L950.1 491.2 L951.7 493 L953.5 494.4 L961.3 498.9 L963.5 499.8 L965.8 500.2 L968.3 500.1 L971 499.6 L973.7 498.5 L976.5 497 L979.3 495.1 L982 492.7 L984.6 490 L987 487.1 L989.2 483.8 L991.2 480.4 L992.9 476.9 L994.2 473.3 L995.2 469.7 L995.9 466.1 L996.1 462.8 L996 459.6 L995.5 456.7 L994.7 454.1 L993.5 451.9 L991.9 450.1 L990.1 448.7 Z" class="w"/>
<path d="M961.3 498.9 L963.5 499.8 L965.8 500.2 L968.3 500.1 L971 499.6 L973.7 498.5 L976.5 497 L979.3 495.1 L982 492.7 L984.6 490 L987 487.1 L989.2 483.8 L991.2 480.4 L992.9 476.9 L994.2 473.3 L995.2 469.7 L995.9 466.1 L996.1 462.8 L996 459.6 L995.5 456.7 L994.7 454.1 L993.5 451.9 L991.9 450.1 L990.1 448.7 L987.9 447.8 L985.6 447.4 L983.1 447.5 L980.4 448 L977.7 449.1 L974.9 450.6 L972.1 452.5 L969.4 454.9 L966.8 457.6 L964.4 460.5 L962.2 463.8 L960.2 467.2 L958.5 470.7 L957.2 474.3 L956.2 477.9 L955.5 481.5 L955.3 484.8 L955.4 488 L955.9 490.9 L956.7 493.5 L957.9 495.7 L959.5 497.5 L961.3 498.9 Z" class="w"/>
<path d="M966.6 491.6 L968.1 492.2 L969.7 492.5 L971.4 492.4 L973.3 492 L975.1 491.3 L977.1 490.3 L979 488.9 L980.8 487.3 L982.6 485.5 L984.3 483.4 L985.8 481.2 L987.2 478.8 L988.3 476.4 L989.2 473.9 L989.9 471.4 L990.4 469 L990.6 466.7 L990.5 464.5 L990.2 462.5 L989.6 460.7 L988.7 459.2 L987.7 458 L986.4 457 L984.9 456.4 L983.3 456.1 L981.6 456.2 L979.7 456.6 L977.9 457.3 L975.9 458.3 L974 459.7 L972.2 461.3 L970.4 463.1 L968.7 465.2 L967.2 467.4 L965.8 469.8 L964.7 472.2 L963.8 474.7 L963.1 477.2 L962.6 479.6 L962.4 481.9 L962.5 484.1 L962.8 486.1 L963.4 487.9 L964.3 489.4 L965.3 490.6 L966.6 491.6 Z"/>
<path d="M968.1 490.2 L969.4 490.8 L970.8 491 L972.4 491 L974.1 490.6 L975.8 490 L977.5 489.1 L979.2 487.8 L980.9 486.4 L982.5 484.7 L984 482.9 L985.4 480.8 L986.6 478.7 L987.7 476.5 L988.5 474.3 L989.2 472 L989.6 469.8 L989.7 467.7 L989.7 465.8 L989.4 463.9 L988.8 462.3 L988.1 461 L987.1 459.8 L985.9 459 L984.6 458.4 L983.2 458.2 L981.6 458.2 L979.9 458.6 L978.2 459.2 L976.5 460.1 L974.8 461.4 L973.1 462.8 L971.5 464.5 L970 466.3 L968.6 468.4 L967.4 470.5 L966.3 472.7 L965.5 474.9 L964.8 477.2 L964.4 479.4 L964.3 481.5 L964.3 483.4 L964.6 485.3 L965.2 486.9 L965.9 488.2 L966.9 489.4 L968.1 490.2 Z"/>
<path d="M985.3 460.7 C984.9 462.4 984.4 467.1 982.7 470.9 C981 474.7 977.7 480.5 975.1 483.7 C972.5 486.9 968.7 489 967.4 490.1"/>
<path d="M971.3 468.4 L967.4 474.8"/>
<path d="M972.5 472.2 L980.2 476"/>
<path d="M1081.1 512.7 C1082.6 511.6 1086.5 508.2 1090.1 506.3 C1093.7 504.4 1099.3 502.1 1102.9 501.2 C1106.5 500.3 1109 500 1111.8 501.2 C1114.6 502.4 1117.4 505.2 1119.5 508.2 C1121.6 511.2 1123.5 516.1 1124.6 519.1 C1125.7 522.1 1126.1 522.8 1125.9 526 C1125.7 529.2 1123.7 536.1 1123.3 538.1"/>
<path d="M1062 549.6 C1061.7 551.5 1060 557.6 1060 561.2 C1060 564.8 1060.6 568.2 1062 571.4 C1063.4 574.6 1065.9 578.2 1068.4 580.3 C1071 582.4 1074.1 584 1077.3 584.2 C1080.5 584.4 1083.9 583.3 1087.5 581.6 C1091.1 579.9 1097.1 575.2 1099 573.9"/>
<path d="M1027.4 456.4 L1013.4 462.1 L1000.6 474.3 L990.3 492.2 L984.6 513.9 L986.5 527.9 L995.5 535.6 L1012.1 547.1 L1018.5 550.9 L1027.4 553.5 L1045.3 548.4 L1050 535 L1062 503.7 L1073.5 492.2 L1069.6 478.1 L1059.4 468.5 L1051.7 462.8 L1041.5 462.1 L1033.8 457 Z" class="wn"/>
<path d="M1027.4 456.4 C1025.1 457.3 1017.9 459.1 1013.4 462.1 C1008.9 465.1 1004.5 469.3 1000.6 474.3 C996.8 479.3 993 485.6 990.3 492.2 C987.6 498.8 985.2 507.9 984.6 513.9 C984 519.9 984.7 524.3 986.5 527.9 C988.3 531.5 991.2 532.4 995.5 535.6 C999.8 538.8 1009.3 545.2 1012.1 547.1"/>
<path d="M1027.4 456.4 L1033.8 457 L1041.5 462.1"/>
<path d="M1041.5 462.1 C1039 463.1 1031.1 465 1026.2 467.9 C1021.3 470.8 1016.4 474.3 1012.1 479.4 C1007.8 484.5 1003.3 492.4 1000.6 498.6 C997.9 504.8 996.5 510.3 996.1 516.5 C995.7 522.7 996.2 531.1 998 535.6 C999.8 540.1 1003.6 540.9 1007 543.2 C1010.4 545.5 1016.6 548.5 1018.5 549.6"/>
<path d="M1041.5 462.1 L1051.7 462.8 L1059.4 468.5"/>
<path d="M1059.4 469.2 C1057.3 469.7 1048.7 471.9 1046.6 472.4"/>
<path d="M1038.9 474.3 C1037.8 475.1 1034.8 477.3 1032.5 479.4 C1030.2 481.5 1027.9 483.5 1024.9 487.1 C1021.9 490.7 1017.2 496.3 1014.6 501.2 C1012 506.1 1010.7 510.8 1009.5 516.5 C1008.3 522.2 1007.9 532.4 1007.6 535.6" class="d2"/>
<path d="M1051.7 480.1 L1059.4 480.1 L1064.5 483.9 L1069.6 478.1 L1072.8 482 L1067.1 487.1 L1072.2 488.4 L1073.5 492.2 L1068.4 494.1 L1073.5 496.7 L1072.2 500.5 L1062 503.7"/>
<path d="M1072.2 500.8 L1067.1 503.7 L1072.8 506.3"/>
<path d="M1062 502.4 C1061.6 500.9 1060.7 495.9 1059.4 493.5 C1058.1 491.1 1056.9 488.7 1054.3 487.7 C1051.7 486.7 1047.6 486.7 1044 487.7 C1040.4 488.7 1035.9 490.6 1032.5 493.5 C1029.1 496.4 1026 500.9 1023.6 505 C1021.2 509.1 1018.9 513.3 1018 517.8 C1017.1 522.2 1017.1 528.4 1018.5 531.7 C1019.9 535 1023.2 536.5 1026.2 537.5 C1029.2 538.5 1033.6 538 1036.4 537.5 C1039.2 537 1041.7 534.8 1042.8 534.3"/>
<path d="M1056.2 503.7 C1055.9 501.8 1055 494.4 1054.3 492.2 C1053.5 490 1053.6 490.5 1051.7 490.3 C1049.8 490.1 1046 489.5 1042.8 490.9 C1039.6 492.3 1035.3 495.6 1032.5 498.6 C1029.7 501.6 1028 505.2 1026.2 508.8 C1024.5 512.4 1022.4 516.6 1022 520 C1021.6 523.4 1022.3 526.9 1023.6 529.2 C1024.9 531.5 1027.7 533.2 1030 533.7 C1032.3 534.2 1035.8 533.1 1037.7 532.4 C1039.6 531.6 1040.9 529.7 1041.5 529.2"/>
<path d="M1042.1 492.2 C1042 493.7 1042.5 497.8 1041.5 501.2 C1040.5 504.6 1038.3 509.5 1036.4 512.7 C1034.5 515.9 1031.9 518.6 1030 520.3 C1028.1 522 1025.8 522.5 1024.9 522.9"/>
<path d="M1031.3 506.3 L1038.9 509.5"/>
<path d="M1027.4 544.5 C1028.9 544.3 1033.6 544.1 1036.4 543.2 C1039.2 542.4 1042.8 540 1044.1 539.4"/>
<path d="M1012.1 547.1 L1018.5 550.9"/>
<path d="M1019.8 550.9 L1022.3 546.4"/>
<path d="M1023.6 552.2 L1026.2 547.1"/>
<path d="M1027.4 553.5 L1031.3 549 L1035.1 552.2 L1038.9 547.1 L1041.5 548.4 L1044.7 543.9 L1045.3 548.4"/>
<path d="M1063.2 506.4 L1062 505.8 L1060.7 505.6 L1059.2 505.7 L1057.7 506 L1056.1 506.6 L1054.6 507.4 L1053 508.5 L1051.4 509.9 L1050 511.4 L1048.6 513.1 L1047.3 515 L1046.2 516.9 L1045.2 518.9 L1044.5 521 L1043.9 523.1 L1043.5 525.1 L1043.4 527 L1043.4 528.8 L1043.7 530.4 L1044.2 531.9 L1044.9 533.2 L1045.8 534.2 L1046.8 535 L1072.8 549.9 L1071.6 552 L1146.6 595 L1147.9 595.6 L1149.5 595.9 L1151.1 595.8 L1152.9 595.4 L1154.7 594.7 L1156.5 593.7 L1158.3 592.5 L1160.1 590.9 L1161.8 589.2 L1163.4 587.2 L1164.8 585.1 L1166.1 582.8 L1167.2 580.5 L1168.1 578.1 L1168.8 575.8 L1169.2 573.5 L1169.4 571.2 L1169.3 569.2 L1169 567.3 L1168.5 565.6 L1167.7 564.1 L1166.6 562.9 L1165.4 562 L1090.4 519.1 L1089.2 521.2 Z" class="wn"/>
<path d="M1046.8 535 L1072.8 549.9"/>
<path d="M1070.7 551.5 L1146.6 595"/>
<path d="M1063.2 506.4 L1089.2 521.2"/>
<path d="M1089.6 518.6 L1165.4 562"/>
<path d="M1062.4 506 L1061.1 505.7 L1059.7 505.6 L1058.2 505.8 L1056.6 506.4 L1055 507.2 L1053.4 508.2 L1051.8 509.5 L1050.3 511 L1048.9 512.7 L1047.6 514.6 L1046.4 516.6 L1045.4 518.6 L1044.6 520.7 L1044 522.8 L1043.6 524.8 L1043.4 526.8 L1043.4 528.6 L1043.7 530.3 L1044.2 531.8 L1044.8 533.1 L1045.7 534.2 L1046.8 535"/>
<path d="M1063.8 506.8 L1062.5 506.4 L1061.1 506.4 L1059.6 506.6 L1058 507.2 L1056.4 508 L1054.8 509 L1053.2 510.3 L1051.7 511.8 L1050.3 513.5 L1048.9 515.4 L1047.8 517.4 L1046.8 519.4 L1046 521.5 L1045.3 523.6 L1044.9 525.6 L1044.8 527.6 L1044.8 529.4 L1045.1 531.1 L1045.5 532.6 L1046.2 533.9 L1047.1 535 L1048.2 535.8"/>
<path d="M1065.2 507.6 L1063.9 507.2 L1062.5 507.2 L1061 507.4 L1059.4 508 L1057.8 508.8 L1056.2 509.8 L1054.6 511.1 L1053.1 512.6 L1051.6 514.3 L1050.3 516.2 L1049.2 518.2 L1048.2 520.2 L1047.3 522.3 L1046.7 524.4 L1046.3 526.4 L1046.1 528.4 L1046.2 530.2 L1046.5 531.9 L1046.9 533.4 L1047.6 534.7 L1048.5 535.8 L1049.6 536.6"/>
<path d="M1062.9 507.9 L1086.3 521.3"/>
<path d="M1059 509.1 L1082.4 522.5"/>
<path d="M1054.7 512.3 L1078.1 525.7"/>
<path d="M1050.9 517 L1074.3 530.4"/>
<path d="M1048.1 523.1 L1071.5 536.5"/>
<path d="M1047.1 528.6 L1070.5 542"/>
<path d="M1047.7 533.3 L1071.1 546.7"/>
<path d="M1084 518.3 L1082.8 517.7 L1081.5 517.5 L1080 517.6 L1078.5 517.9 L1076.9 518.5 L1075.4 519.3 L1073.8 520.5 L1072.2 521.8 L1070.8 523.3 L1069.4 525 L1068.1 526.9 L1067 528.8 L1066 530.9 L1065.3 532.9 L1064.7 535 L1064.3 537 L1064.2 538.9 L1064.2 540.7 L1064.5 542.4 L1065 543.8 L1065.7 545.1 L1066.5 546.1 L1067.6 546.9"/>
<path d="M1089.6 518.6 L1088.2 518 L1086.7 517.7 L1085 517.8 L1083.3 518.1 L1081.5 518.8 L1079.6 519.8 L1077.8 521.1 L1076 522.6 L1074.3 524.4 L1072.7 526.4 L1071.3 528.5 L1070 530.8 L1068.9 533.1 L1068 535.4 L1067.3 537.8 L1066.9 540.1 L1066.7 542.3 L1066.8 544.4 L1067.1 546.3 L1067.7 548 L1068.5 549.5 L1069.5 550.7 L1070.7 551.5"/>
<path d="M1109.4 530 L1108.1 529.4 L1106.5 529.1 L1104.9 529.1 L1103.1 529.5 L1101.3 530.2 L1099.5 531.2 L1097.7 532.5 L1095.9 534 L1094.2 535.8 L1092.6 537.8 L1091.2 539.9 L1089.9 542.1 L1088.8 544.5 L1087.9 546.8 L1087.2 549.2 L1086.8 551.5 L1086.6 553.7 L1086.7 555.8 L1087 557.7 L1087.5 559.4 L1088.3 560.8 L1089.4 562 L1090.6 562.9"/>
<path d="M1113.4 532.2 L1112.1 531.7 L1110.5 531.4 L1108.9 531.4 L1107.1 531.8 L1105.3 532.5 L1103.5 533.5 L1101.7 534.8 L1099.9 536.3 L1098.2 538.1 L1096.6 540 L1095.2 542.2 L1093.9 544.4 L1092.8 546.8 L1091.9 549.1 L1091.2 551.5 L1090.8 553.8 L1090.6 556 L1090.7 558.1 L1091 560 L1091.5 561.7 L1092.3 563.1 L1093.4 564.3 L1094.6 565.2"/>
<path d="M1117.4 534.5 L1116.1 533.9 L1114.5 533.7 L1112.9 533.7 L1111.1 534.1 L1109.3 534.8 L1107.5 535.8 L1105.7 537.1 L1103.9 538.6 L1102.2 540.4 L1100.6 542.3 L1099.2 544.5 L1097.9 546.7 L1096.8 549 L1095.9 551.4 L1095.2 553.8 L1094.8 556.1 L1094.6 558.3 L1094.7 560.4 L1095 562.3 L1095.5 564 L1096.3 565.4 L1097.4 566.6 L1098.6 567.5"/>
<path d="M1139.4 547.1 L1138.1 546.5 L1136.5 546.3 L1134.9 546.3 L1133.1 546.7 L1131.3 547.4 L1129.5 548.4 L1127.7 549.7 L1125.9 551.2 L1124.2 553 L1122.6 554.9 L1121.2 557.1 L1119.9 559.3 L1118.8 561.6 L1117.9 564 L1117.2 566.4 L1116.8 568.7 L1116.6 570.9 L1116.7 573 L1117 574.9 L1117.5 576.6 L1118.3 578 L1119.4 579.2 L1120.6 580.1"/>
<path d="M1141 548 L1139.6 547.4 L1138.1 547.2 L1136.4 547.2 L1134.7 547.6 L1132.9 548.3 L1131.1 549.3 L1129.2 550.6 L1127.5 552.1 L1125.8 553.9 L1124.2 555.8 L1122.7 558 L1121.4 560.2 L1120.3 562.5 L1119.4 564.9 L1118.8 567.3 L1118.3 569.6 L1118.2 571.8 L1118.2 573.9 L1118.6 575.8 L1119.1 577.5 L1119.9 578.9 L1120.9 580.1 L1122.1 581"/>
<path d="M1137.3 548.2 L1159.8 561.1"/>
<path d="M1132.8 549.8 L1155.3 562.7"/>
<path d="M1127.9 553.7 L1150.4 566.6"/>
<path d="M1123.6 559.2 L1146.1 572.1"/>
<path d="M1120.5 566.2 L1143 579.1"/>
<path d="M1119.5 572.5 L1142 585.4"/>
<path d="M1120.2 577.3 L1142.7 590.2"/>
<path d="M1146.4 595.3 L1147.8 595.9 L1149.4 596.1 L1151.1 596.1 L1152.8 595.7 L1154.7 595 L1156.5 594 L1158.4 592.7 L1160.2 591.1 L1161.9 589.3 L1163.5 587.3 L1165 585.2 L1166.3 582.9 L1167.4 580.5 L1168.3 578.1 L1169 575.7 L1169.4 573.4 L1169.6 571.1 L1169.5 569 L1169.2 567.1 L1168.6 565.4 L1167.8 563.9 L1166.8 562.7 L1165.6 561.8 L1164.2 561.2 L1162.6 560.9 L1160.9 560.9 L1159.2 561.3 L1157.3 562 L1155.5 563 L1153.6 564.3 L1151.8 565.9 L1150.1 567.7 L1148.5 569.7 L1147 571.8 L1145.7 574.1 L1144.6 576.5 L1143.7 578.9 L1143 581.3 L1142.6 583.6 L1142.4 585.9 L1142.5 588 L1142.8 589.9 L1143.4 591.7 L1144.2 593.1 L1145.2 594.4 L1146.4 595.3 Z" class="w"/>
</svg>
<div class="lb" style="left:315px;top:475px;width:84px;"><span>G34003</span></div>
<div class="lb" style="left:851px;top:512px;width:84px;"><span>G34003</span></div>
</body></html>
